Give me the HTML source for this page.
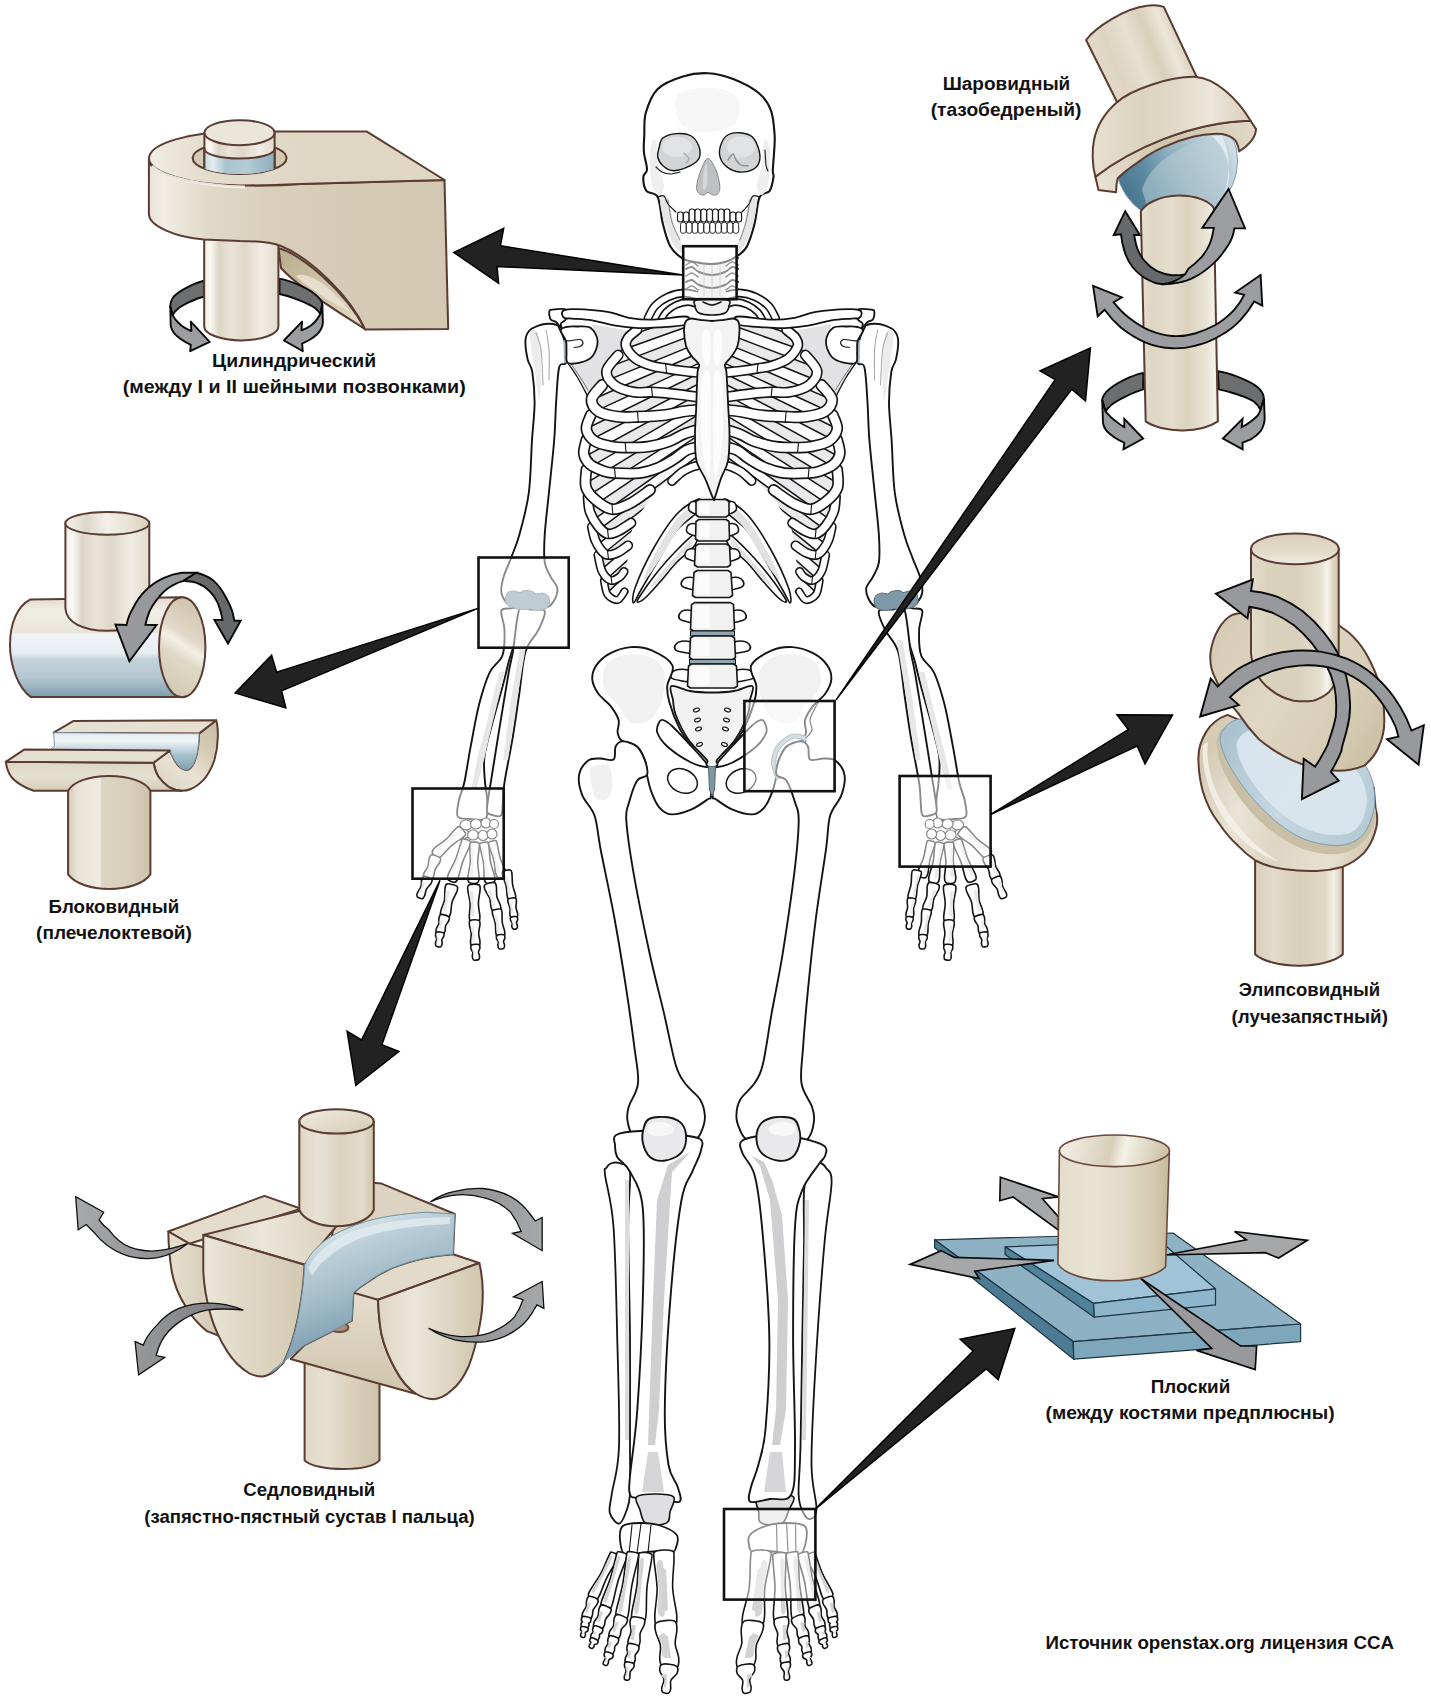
<!DOCTYPE html>
<html><head><meta charset="utf-8">
<style>
html,body{margin:0;padding:0;background:#fff;}
body{width:1431px;height:1705px;overflow:hidden;}
svg{display:block;}
text{font-family:"Liberation Sans",sans-serif;font-weight:bold;font-size:18px;fill:#111;text-anchor:middle;}
</style></head><body>
<svg width="1431" height="1705" viewBox="0 0 1431 1705">
<defs>
<!--DEFS1-->
<linearGradient id="cylA" x1="0" x2="1" y1="0" y2="0">
<stop offset="0" stop-color="#f3efe7"/><stop offset="0.08" stop-color="#fbf9f5"/><stop offset="0.2" stop-color="#ddd6c6"/><stop offset="0.36" stop-color="#e9e4d8"/><stop offset="0.55" stop-color="#dfd8c9"/><stop offset="0.78" stop-color="#f1ede5"/><stop offset="1" stop-color="#e2dbcc"/>
</linearGradient>
<linearGradient id="blueBand" x1="0" x2="1" y1="0" y2="0">
<stop offset="0" stop-color="#c7d9e0"/><stop offset="0.12" stop-color="#e3edf1"/><stop offset="0.3" stop-color="#a9c3cf"/><stop offset="0.6" stop-color="#b4ccd6"/><stop offset="0.85" stop-color="#9bb8c6"/><stop offset="1" stop-color="#8eaebd"/>
</linearGradient>
<linearGradient id="pvFront" gradientUnits="userSpaceOnUse" x1="149" x2="448" y1="0" y2="0">
<stop offset="0" stop-color="#e9e3d6"/><stop offset="0.05" stop-color="#f1ede4"/><stop offset="0.2" stop-color="#e0d9c8"/><stop offset="0.45" stop-color="#d8ceb9"/><stop offset="1" stop-color="#d3c8b1"/>
</linearGradient>
<linearGradient id="pvTop" x1="0" x2="1" y1="0" y2="0">
<stop offset="0" stop-color="#f1ede3"/><stop offset="0.3" stop-color="#e4ddcd"/><stop offset="1" stop-color="#dfd6c3"/>
</linearGradient>
<linearGradient id="pvArch" gradientUnits="userSpaceOnUse" x1="280" y1="250" x2="360" y2="325">
<stop offset="0" stop-color="#b9ab8e"/><stop offset="0.5" stop-color="#cfc4a8"/><stop offset="1" stop-color="#e2d9c2"/>
</linearGradient>
<clipPath id="pvClip"><rect x="190" y="100" width="100" height="58"/><ellipse cx="239.6" cy="158" rx="47" ry="16"/></clipPath>
<!--/DEFS1-->
<!--DEFS2-->
<linearGradient id="cylB" x1="0" x2="1" y1="0" y2="0">
<stop offset="0" stop-color="#e6dfd0"/><stop offset="0.15" stop-color="#ded6c3"/><stop offset="0.4" stop-color="#e4ddcb"/><stop offset="0.6" stop-color="#dbd2bd"/><stop offset="0.85" stop-color="#e9e3d5"/><stop offset="0.96" stop-color="#f6f3ec"/><stop offset="1" stop-color="#e2dbca"/>
</linearGradient>
<linearGradient id="ballUp" gradientUnits="userSpaceOnUse" x1="1095" y1="75" x2="1180" y2="40">
<stop offset="0" stop-color="#e4ddcc"/><stop offset="0.25" stop-color="#dcd4c0"/><stop offset="0.5" stop-color="#e6e0d0"/><stop offset="0.7" stop-color="#d9d0bb"/><stop offset="0.88" stop-color="#ebe6d9"/><stop offset="1" stop-color="#ddd5c2"/>
</linearGradient>
<linearGradient id="ballCap" gradientUnits="userSpaceOnUse" x1="1095" y1="0" x2="1250" y2="0">
<stop offset="0" stop-color="#e6dfcf"/><stop offset="0.3" stop-color="#dcd3bf"/><stop offset="0.55" stop-color="#e2dbc9"/><stop offset="0.75" stop-color="#ebe6d9"/><stop offset="1" stop-color="#d9d0bb"/>
</linearGradient>
<linearGradient id="ballRim" gradientUnits="userSpaceOnUse" x1="1100" y1="190" x2="1250" y2="125">
<stop offset="0" stop-color="#e8e2d3"/><stop offset="0.5" stop-color="#cfc5ac"/><stop offset="1" stop-color="#e0d8c5"/>
</linearGradient>
<linearGradient id="ballG" gradientUnits="userSpaceOnUse" x1="1120" y1="200" x2="1235" y2="140">
<stop offset="0" stop-color="#3f7089"/><stop offset="0.28" stop-color="#5f8ba1"/><stop offset="0.5" stop-color="#8fafbf"/><stop offset="0.75" stop-color="#b3c9d3"/><stop offset="1" stop-color="#d3e0e6"/>
</linearGradient>
<!--/DEFS2-->
<!--DEFS3-->
<linearGradient id="hgBody" gradientUnits="userSpaceOnUse" x1="0" y1="599" x2="0" y2="697">
<stop offset="0" stop-color="#e3ddcd"/><stop offset="0.12" stop-color="#f1eee6"/><stop offset="0.345" stop-color="#e9e5da"/><stop offset="0.355" stop-color="#f0f3f6"/><stop offset="0.55" stop-color="#e9eef2"/><stop offset="0.62" stop-color="#c3d2da"/><stop offset="0.8" stop-color="#b4c7d1"/><stop offset="1" stop-color="#7d9fb0"/>
</linearGradient>
<linearGradient id="hgEnd" gradientUnits="userSpaceOnUse" x1="160" y1="680" x2="205" y2="610">
<stop offset="0" stop-color="#d5cbb5"/><stop offset="0.35" stop-color="#e0d8c6"/><stop offset="0.5" stop-color="#f3efe7"/><stop offset="0.62" stop-color="#e0d8c6"/><stop offset="1" stop-color="#d0c5ae"/>
</linearGradient>
<linearGradient id="hgTopE" x1="0" x2="1" y1="0" y2="0">
<stop offset="0" stop-color="#f6f3ed"/><stop offset="0.25" stop-color="#dfd8c8"/><stop offset="0.5" stop-color="#f3f0e9"/><stop offset="0.8" stop-color="#e6e0d2"/><stop offset="1" stop-color="#d8cfbb"/>
</linearGradient>
<linearGradient id="cylC" x1="0" x2="1" y1="0" y2="0">
<stop offset="0" stop-color="#d6ccb6"/><stop offset="0.12" stop-color="#e9e4d7"/><stop offset="0.395" stop-color="#efebe1"/><stop offset="0.405" stop-color="#ddd5c2"/><stop offset="0.75" stop-color="#d9d0bb"/><stop offset="1" stop-color="#cdc2a9"/>
</linearGradient>
<linearGradient id="hgCres" gradientUnits="userSpaceOnUse" x1="160" y1="790" x2="215" y2="725">
<stop offset="0" stop-color="#ddd5c2"/><stop offset="0.4" stop-color="#e8e2d4"/><stop offset="0.7" stop-color="#d5cbb5"/><stop offset="1" stop-color="#cbbfa5"/>
</linearGradient>
<linearGradient id="hgFront" gradientUnits="userSpaceOnUse" x1="0" y1="762" x2="0" y2="791">
<stop offset="0" stop-color="#ded6c3"/><stop offset="0.5" stop-color="#e6e0d1"/><stop offset="1" stop-color="#d5cbb5"/>
</linearGradient>
<linearGradient id="hgBlue" gradientUnits="userSpaceOnUse" x1="0" y1="733" x2="0" y2="770">
<stop offset="0" stop-color="#dfe9ee"/><stop offset="0.2" stop-color="#f3f7f9"/><stop offset="0.42" stop-color="#c9d9e0"/><stop offset="0.6" stop-color="#a7c0cc"/><stop offset="1" stop-color="#7ea0b1"/>
</linearGradient>
<!--/DEFS3-->
<!--DEFS4-->
<linearGradient id="elCyl" x1="0" x2="1" y1="0" y2="0">
<stop offset="0" stop-color="#d9d0bb"/><stop offset="0.2" stop-color="#e2dbc9"/><stop offset="0.5" stop-color="#d9d0bb"/><stop offset="0.8" stop-color="#e0d8c5"/><stop offset="0.9" stop-color="#f3f0e8"/><stop offset="1" stop-color="#cfc5ac"/>
</linearGradient>
<linearGradient id="elCyl2" x1="0" x2="1" y1="0" y2="0">
<stop offset="0" stop-color="#e2dbc9"/><stop offset="0.2" stop-color="#dbd2be"/><stop offset="0.5" stop-color="#d9d0bb"/><stop offset="0.78" stop-color="#e4decd"/><stop offset="0.87" stop-color="#f7f5ee"/><stop offset="0.92" stop-color="#e2dbc9"/><stop offset="1" stop-color="#cfc5ac"/>
</linearGradient>
<linearGradient id="elTop" x1="0" x2="0" y1="0" y2="1">
<stop offset="0" stop-color="#d9d0bb"/><stop offset="0.6" stop-color="#e2dbc9"/><stop offset="1" stop-color="#f1ede4"/>
</linearGradient>
<linearGradient id="elEgg" gradientUnits="userSpaceOnUse" x1="1215" y1="640" x2="1385" y2="750">
<stop offset="0" stop-color="#d6ccb6"/><stop offset="0.4" stop-color="#dfd7c4"/><stop offset="0.7" stop-color="#d8ceb8"/><stop offset="1" stop-color="#cbbfa5"/>
</linearGradient>
<linearGradient id="elDish" gradientUnits="userSpaceOnUse" x1="1200" y1="780" x2="1375" y2="850">
<stop offset="0" stop-color="#d6ccb6"/><stop offset="0.25" stop-color="#e9e4d7"/><stop offset="0.5" stop-color="#ded6c3"/><stop offset="0.8" stop-color="#e6e0d0"/><stop offset="1" stop-color="#cfc5ac"/>
</linearGradient>
<linearGradient id="elBlue" gradientUnits="userSpaceOnUse" x1="1225" y1="730" x2="1370" y2="830">
<stop offset="0" stop-color="#a9c2ce"/><stop offset="0.5" stop-color="#c6d7e0"/><stop offset="1" stop-color="#b4cad5"/>
</linearGradient>
<!--/DEFS4-->
<!--DEFS5-->
<linearGradient id="sdCyl" x1="0" x2="1" y1="0" y2="0">
<stop offset="0" stop-color="#e0d8c6"/><stop offset="0.3" stop-color="#e6e0d0"/><stop offset="0.6" stop-color="#dbd2be"/><stop offset="1" stop-color="#cdc2a9"/>
</linearGradient>
<linearGradient id="sdCylU" x1="0" x2="1" y1="0" y2="0">
<stop offset="0" stop-color="#ded6c3"/><stop offset="0.25" stop-color="#e8e3d5"/><stop offset="0.55" stop-color="#dcd3bf"/><stop offset="0.85" stop-color="#e2dbc9"/><stop offset="1" stop-color="#cfc5ac"/>
</linearGradient>
<linearGradient id="sdTopE" x1="0" x2="1" y1="0" y2="1">
<stop offset="0" stop-color="#f0ece3"/><stop offset="0.5" stop-color="#e2dbc9"/><stop offset="1" stop-color="#d6ccb6"/>
</linearGradient>
<linearGradient id="sdLobeB" x1="0" x2="1" y1="0" y2="0">
<stop offset="0" stop-color="#e6e0d0"/><stop offset="1" stop-color="#cfc5ac"/>
</linearGradient>
<linearGradient id="sdD1" gradientUnits="userSpaceOnUse" x1="203" y1="0" x2="305" y2="0">
<stop offset="0" stop-color="#ece7db"/><stop offset="0.3" stop-color="#e2dbc9"/><stop offset="0.7" stop-color="#dad1bc"/><stop offset="1" stop-color="#d3c9b2"/>
</linearGradient>
<linearGradient id="sdD2" gradientUnits="userSpaceOnUse" x1="378" y1="0" x2="483" y2="0">
<stop offset="0" stop-color="#ded6c3"/><stop offset="0.35" stop-color="#ebe6da"/><stop offset="0.7" stop-color="#ddd5c1"/><stop offset="1" stop-color="#cfc5ac"/>
</linearGradient>
<linearGradient id="sdSide" gradientUnits="userSpaceOnUse" x1="0" y1="1295" x2="0" y2="1390">
<stop offset="0" stop-color="#e4ddcc"/><stop offset="0.5" stop-color="#dad1bc"/><stop offset="1" stop-color="#d0c6ae"/>
</linearGradient>
<linearGradient id="sdTopF" gradientUnits="userSpaceOnUse" x1="203" y1="1235" x2="320" y2="1225">
<stop offset="0" stop-color="#d9d0bb"/><stop offset="0.5" stop-color="#ebe6da"/><stop offset="1" stop-color="#ddd5c1"/>
</linearGradient>
<linearGradient id="sdBlue" gradientUnits="userSpaceOnUse" x1="330" y1="1225" x2="370" y2="1330">
<stop offset="0" stop-color="#dfe9ee"/><stop offset="0.25" stop-color="#bccfd9"/><stop offset="0.6" stop-color="#a3bcc9"/><stop offset="1" stop-color="#7e9fb0"/>
</linearGradient>
<linearGradient id="sdArr" gradientUnits="userSpaceOnUse" x1="75" y1="0" x2="545" y2="0"><stop offset="0" stop-color="#a8a9ab"/><stop offset="0.3" stop-color="#808184"/><stop offset="0.5" stop-color="#6f7073"/><stop offset="0.72" stop-color="#808184"/><stop offset="1" stop-color="#a8a9ab"/></linearGradient>
<!--/DEFS5-->
<!--DEFS6-->
<linearGradient id="plCyl" x1="0" x2="1" y1="0" y2="0">
<stop offset="0" stop-color="#e4ddcb"/><stop offset="0.3" stop-color="#e9e3d4"/><stop offset="0.6" stop-color="#e2dac6"/><stop offset="0.85" stop-color="#d5cab1"/><stop offset="1" stop-color="#c6b99c"/>
</linearGradient>
<linearGradient id="plTop" gradientUnits="userSpaceOnUse" x1="1070" y1="1140" x2="1160" y2="1162">
<stop offset="0" stop-color="#efebe0"/><stop offset="0.45" stop-color="#d8cfb9"/><stop offset="0.6" stop-color="#f4f1e9"/><stop offset="1" stop-color="#d0c5ab"/>
</linearGradient>
<!--/DEFS6-->
</defs>
<rect width="1431" height="1705" fill="#fff"/>
<!--SKELETON-->
<!--SKEL_BEGIN-->
<g id="halfA">
<path d="M592 324 L627.6 330.4 L640 340 L612 365 L596 392 L586.1 393.4 L576.9 376.5 L567.6 362.6 L592.2 356.5 L597.6 341.1 Z" fill="#e2e2e4" stroke="none" opacity="1"/>
<path d="M567.6 362.6 C569.1 364.9 573.8 371.4 576.9 376.5 C580 381.6 583.9 389.1 586.1 393.4 C588.3 397.6 589.4 400.6 590 402" fill="none" stroke="#141414" stroke-width="1.3" stroke-linecap="round"/>
<path d="M571 364 C572.5 366.2 577.2 372.7 580 377 C582.8 381.3 586.7 387.8 588 390" fill="none" stroke="#555" stroke-width="0.8" stroke-linecap="round"/>
<path d="M549.2 311.9 C549.5 310.2 549.5 310 552.3 309.6 C555.1 309.2 563.7 308 566 309.6 C568.3 311.2 566.8 316.7 566 319 C565.2 321.3 561.8 321.9 561 323.4 C560.2 324.9 562.3 328.2 561.5 328 C560.7 327.8 557.8 323.4 556 322 C554.2 320.6 551.8 321.3 550.7 319.6 C549.6 317.9 548.9 313.6 549.2 311.9 Z" fill="#fff" stroke="#141414" stroke-width="1.8" stroke-linejoin="round" />
<path d="M538.4 325.7 C541.6 324.5 544.9 323.9 548 323.8 C551.1 323.7 555 324.3 556.9 325 C558.8 325.7 557.9 325.3 559.2 328 C560.5 330.7 563.5 335.3 564.6 341.1 C565.8 346.9 567 358.2 566.1 362.6 C565.2 367 560.9 360.6 559.2 367.3 C557.5 374 556.9 390.5 556.1 402.6 C555.3 414.7 555.4 425 554.2 440 C553 455 550.5 477 548.9 492.8 C547.3 508.6 545.4 523.4 544.7 535 C544 546.6 543.7 555.5 544.7 562.5 C545.8 569.5 548.9 573.1 551 577.3 C553.1 581.5 556.6 584.4 557.3 587.9 C558 591.4 556.8 595.3 555.2 598.5 C553.6 601.7 552 605.3 547.8 606.9 C543.6 608.5 536 608.3 530 608 C524 607.7 515.9 605.9 512 605 C508.1 604.1 508.4 604.9 506.6 602.7 C504.8 600.6 501.8 596.3 501.3 592.1 C500.8 587.9 501.9 582.9 503.5 577.3 C505.1 571.7 508.3 565.3 510.9 558.3 C513.5 551.2 516.3 545.9 519.3 535 C522.3 524.1 526.7 508.6 528.8 492.8 C530.9 477 531 455 532 440 C533 425 534.6 414 534.6 402.6 C534.6 391.2 533.4 379.1 532.3 371.9 C531.1 364.7 528.9 364.7 527.7 359.6 C526.6 354.5 525.2 345.9 525.4 341.1 C525.6 336.3 526.8 333.6 529 331 C531.2 328.4 535.2 326.9 538.4 325.7 Z" fill="#fff" stroke="#141414" stroke-width="1.9" stroke-linejoin="round" />
<path d="M530 335 C530.2 328 534.3 328.3 536 330 C537.7 331.7 539.2 336.7 540 345 C540.8 353.3 541.2 370.8 541 380 C540.8 389.2 540 401.3 539 400 C538 398.7 536.5 382.8 535 372 C533.5 361.2 529.8 342 530 335 Z" fill="#ececee" stroke="none" opacity="1"/>
<path d="M536 333 C536.8 335.8 539.8 341.3 541 350 C542.2 358.7 542.7 379.2 543 385" fill="none" stroke="#777" stroke-width="0.7" stroke-linecap="round"/>
<path d="M546 330 C546.5 333.3 548.5 341.7 549 350 C549.5 358.3 549 375 549 380" fill="none" stroke="#777" stroke-width="0.7" stroke-linecap="round"/>
<path d="M563.5 340 L567 340.5 L567.5 362.6 L564 363 Z" fill="#9fb1bd" stroke="none" opacity="1"/>
<path d="M560.7 330.4 C560.7 328.1 563.3 327.6 566 327 C568.7 326.4 572.8 326.3 576.9 326.5 C581 326.7 587.2 325.6 590.7 328 C594.2 330.4 597.4 336.4 597.6 341.1 C597.9 345.9 595.2 352.9 592.2 356.5 C589.2 360.1 584 361.6 579.9 362.6 C575.8 363.6 569.8 364.4 567.6 362.6 C565.4 360.8 566.8 355.6 566.5 352 C566.2 348.4 567 344.6 566 341 C565 337.4 560.7 332.7 560.7 330.4 Z" fill="#fff" stroke="#141414" stroke-width="1.8" stroke-linejoin="round" />
<path d="M566 341 C567 340.9 569.7 340.8 572 340.5 C574.3 340.2 578.2 339.1 580 339.5 C581.8 339.9 583 341.8 583 343 C583 344.2 581.5 345.8 580 346.5 C578.5 347.2 575 347.3 574 347.5" fill="none" stroke="#141414" stroke-width="1.1" stroke-linecap="round"/>
</g>
<use href="#halfA" transform="translate(1423.6 0) scale(-1 1)"/>
<defs><clipPath id="cageClip"><path d="M700 322 L640 326 L626 343 L606 370 L591 399 L586 429 L583 454 L584.6 478.4 L588.2 504.8 L593.4 540 L600.5 571.6 L607.5 594.5 L618.1 600.7 L625.1 591 L626 572 L629 547 L633 524 L652 496 L668 480 L700 464 Z"/></clipPath></defs>
<g id="halfRibs">
<path d="M700 296 C697.3 295.5 689.3 292.8 684 293 C678.7 293.2 672.8 294.8 668 297 C663.2 299.2 658.3 302.5 655 306 C651.7 309.5 649.2 316 648 318" fill="none" stroke="#141414" stroke-width="8.8" stroke-linecap="round" stroke-linejoin="round"/>
<path d="M700 296 C697.3 295.5 689.3 292.8 684 293 C678.7 293.2 672.8 294.8 668 297 C663.2 299.2 658.3 302.5 655 306 C651.7 309.5 649.2 316 648 318" fill="none" stroke="#fff" stroke-width="5.5" stroke-linecap="round" stroke-linejoin="round"/>
<path d="M700 305 C698 304.5 692 302 688 302 C684 302 679.7 303.3 676 305 C672.3 306.7 668.5 309.5 666 312 C663.5 314.5 661.8 318.7 661 320" fill="none" stroke="#141414" stroke-width="7.8" stroke-linecap="round" stroke-linejoin="round"/>
<path d="M700 305 C698 304.5 692 302 688 302 C684 302 679.7 303.3 676 305 C672.3 306.7 668.5 309.5 666 312 C663.5 314.5 661.8 318.7 661 320" fill="none" stroke="#fff" stroke-width="4.5" stroke-linecap="round" stroke-linejoin="round"/>
<g clip-path="url(#cageClip)">
<rect x="575" y="315" width="130" height="295" fill="#e9e9eb"/>
<path d="M706 300 L538.6 351.2 L539.9 365 L706 310 Z" fill="#fcfcfc" stroke="none"/>
<path d="M706 320 L541.2 378.8 L542.5 392.5 L706 330 Z" fill="#fcfcfc" stroke="none"/>
<path d="M706 340 L544 406.2 L545.6 419.9 L706 350 Z" fill="#fcfcfc" stroke="none"/>
<path d="M706 360 L547.2 433.6 L548.9 447.2 L706 370 Z" fill="#fcfcfc" stroke="none"/>
<path d="M706 380 L550.7 460.7 L552.6 474.3 L706 390 Z" fill="#fcfcfc" stroke="none"/>
<path d="M706 400 L554.6 487.7 L556.6 501.2 L706 410 Z" fill="#fcfcfc" stroke="none"/>
<path d="M706 420 L558.8 514.6 L560.9 527.9 L706 430 Z" fill="#fcfcfc" stroke="none"/>
<path d="M706 440 L563.2 541.2 L565.6 554.4 L706 450 Z" fill="#fcfcfc" stroke="none"/>
<path d="M706 460 L568 567.6 L570.5 580.7 L706 470 Z" fill="#fcfcfc" stroke="none"/>
<path d="M706 480 L573.1 593.8 L575.7 606.8 L706 490 Z" fill="#fcfcfc" stroke="none"/>
<path d="M706 500 L578.4 619.8 L581.2 632.6 L706 510 Z" fill="#fcfcfc" stroke="none"/>
<path d="M706 520 L584 645.5 L586.9 658.2 L706 530 Z" fill="#fcfcfc" stroke="none"/>
<path d="M706 540 L589.9 670.9 L592.9 683.5 L706 550 Z" fill="#fcfcfc" stroke="none"/>
<path d="M706 560 L596 696.1 L599.1 708.5 L706 570 Z" fill="#fcfcfc" stroke="none"/>
<path d="M706 300 L538.6 351.2" stroke="#141414" stroke-width="1.5" fill="none"/>
<path d="M706 310 L539.9 365" stroke="#141414" stroke-width="1.5" fill="none"/>
<path d="M706 320 L541.2 378.8" stroke="#141414" stroke-width="1.5" fill="none"/>
<path d="M706 330 L542.5 392.5" stroke="#141414" stroke-width="1.5" fill="none"/>
<path d="M706 340 L544 406.2" stroke="#141414" stroke-width="1.5" fill="none"/>
<path d="M706 350 L545.6 419.9" stroke="#141414" stroke-width="1.5" fill="none"/>
<path d="M706 360 L547.2 433.6" stroke="#141414" stroke-width="1.5" fill="none"/>
<path d="M706 370 L548.9 447.2" stroke="#141414" stroke-width="1.5" fill="none"/>
<path d="M706 380 L550.7 460.7" stroke="#141414" stroke-width="1.5" fill="none"/>
<path d="M706 390 L552.6 474.3" stroke="#141414" stroke-width="1.5" fill="none"/>
<path d="M706 400 L554.6 487.7" stroke="#141414" stroke-width="1.5" fill="none"/>
<path d="M706 410 L556.6 501.2" stroke="#141414" stroke-width="1.5" fill="none"/>
<path d="M706 420 L558.8 514.6" stroke="#141414" stroke-width="1.5" fill="none"/>
<path d="M706 430 L560.9 527.9" stroke="#141414" stroke-width="1.5" fill="none"/>
<path d="M706 440 L563.2 541.2" stroke="#141414" stroke-width="1.5" fill="none"/>
<path d="M706 450 L565.6 554.4" stroke="#141414" stroke-width="1.5" fill="none"/>
<path d="M706 460 L568 567.6" stroke="#141414" stroke-width="1.5" fill="none"/>
<path d="M706 470 L570.5 580.7" stroke="#141414" stroke-width="1.5" fill="none"/>
<path d="M706 480 L573.1 593.8" stroke="#141414" stroke-width="1.5" fill="none"/>
<path d="M706 490 L575.7 606.8" stroke="#141414" stroke-width="1.5" fill="none"/>
<path d="M706 500 L578.4 619.8" stroke="#141414" stroke-width="1.5" fill="none"/>
<path d="M706 510 L581.2 632.6" stroke="#141414" stroke-width="1.5" fill="none"/>
<path d="M706 520 L584 645.5" stroke="#141414" stroke-width="1.5" fill="none"/>
<path d="M706 530 L586.9 658.2" stroke="#141414" stroke-width="1.5" fill="none"/>
<path d="M706 540 L589.9 670.9" stroke="#141414" stroke-width="1.5" fill="none"/>
<path d="M706 550 L592.9 683.5" stroke="#141414" stroke-width="1.5" fill="none"/>
<path d="M706 560 L596 696.1" stroke="#141414" stroke-width="1.5" fill="none"/>
<path d="M706 570 L599.1 708.5" stroke="#141414" stroke-width="1.5" fill="none"/>
</g>
<path d="M604 581 C604.6 583.2 605.2 591.3 607.5 594.5 C609.8 597.7 614.7 600.5 617.5 600 C620.3 599.5 623.3 592.9 624.5 591.5" fill="none" stroke="#141414" stroke-width="8.2" stroke-linecap="round" stroke-linejoin="round"/>
<path d="M604 581 C604.6 583.2 605.2 591.3 607.5 594.5 C609.8 597.7 614.7 600.5 617.5 600 C620.3 599.5 623.3 592.9 624.5 591.5" fill="none" stroke="#fff" stroke-width="5" stroke-linecap="round" stroke-linejoin="round"/>
<path d="M598 555 C598.7 557.8 600 567.4 602.2 571.6 C604.4 575.8 608.1 579.5 611 580.4 C613.9 581.3 617.6 578.4 619.8 576.9 C622 575.4 623.3 572.5 624 571.6" fill="none" stroke="#141414" stroke-width="9.2" stroke-linecap="round" stroke-linejoin="round"/>
<path d="M598 555 C598.7 557.8 600 567.4 602.2 571.6 C604.4 575.8 608.1 579.5 611 580.4 C613.9 581.3 617.6 578.4 619.8 576.9 C622 575.4 623.3 572.5 624 571.6" fill="none" stroke="#fff" stroke-width="6" stroke-linecap="round" stroke-linejoin="round"/>
<path d="M592 527 C592.5 529.2 593.7 536.2 595.2 540 C596.7 543.8 599 547.5 601 550 C603 552.5 604.6 554.5 607.5 554.9 C610.4 555.3 614.7 553.9 618.1 552.3 C621.5 550.7 626.4 546.6 628 545.5" fill="none" stroke="#141414" stroke-width="10.2" stroke-linecap="round" stroke-linejoin="round"/>
<path d="M592 527 C592.5 529.2 593.7 536.2 595.2 540 C596.7 543.8 599 547.5 601 550 C603 552.5 604.6 554.5 607.5 554.9 C610.4 555.3 614.7 553.9 618.1 552.3 C621.5 550.7 626.4 546.6 628 545.5" fill="none" stroke="#fff" stroke-width="7" stroke-linecap="round" stroke-linejoin="round"/>
<path d="M588 497 C588.3 499.5 588.3 507.2 590 512 C591.7 516.8 595.1 522.4 598 526 C600.9 529.6 604.1 532.9 607.5 533.8 C610.9 534.7 614.2 533 618.1 531.2 C622 529.4 628.9 524.4 631 523" fill="none" stroke="#141414" stroke-width="10.8" stroke-linecap="round" stroke-linejoin="round"/>
<path d="M588 497 C588.3 499.5 588.3 507.2 590 512 C591.7 516.8 595.1 522.4 598 526 C600.9 529.6 604.1 532.9 607.5 533.8 C610.9 534.7 614.2 533 618.1 531.2 C622 529.4 628.9 524.4 631 523" fill="none" stroke="#fff" stroke-width="7.5" stroke-linecap="round" stroke-linejoin="round"/>
<path d="M586.4 469.6 C586.3 472.5 584.5 482.2 586 487.2 C587.5 492.2 590.9 495.8 595.2 499.5 C599.5 503.2 606.1 508.5 611.9 509.2 C617.7 509.9 623.6 506.7 630 503.5 C636.4 500.3 646.7 492.2 650 490" fill="none" stroke="#141414" stroke-width="11.8" stroke-linecap="round" stroke-linejoin="round"/>
<path d="M586.4 469.6 C586.3 472.5 584.5 482.2 586 487.2 C587.5 492.2 590.9 495.8 595.2 499.5 C599.5 503.2 606.1 508.5 611.9 509.2 C617.7 509.9 623.6 506.7 630 503.5 C636.4 500.3 646.7 492.2 650 490" fill="none" stroke="#fff" stroke-width="8.5" stroke-linecap="round" stroke-linejoin="round"/>
<path d="M672 481 C673.7 479.5 678.7 474.3 682 472 C685.3 469.7 689 468.2 692 467 C695 465.8 698.7 465.3 700 465" fill="none" stroke="#141414" stroke-width="9.8" stroke-linecap="round" stroke-linejoin="round"/>
<path d="M672 481 C673.7 479.5 678.7 474.3 682 472 C685.3 469.7 689 468.2 692 467 C695 465.8 698.7 465.3 700 465" fill="none" stroke="#fff" stroke-width="6.5" stroke-linecap="round" stroke-linejoin="round"/>
<path d="M586.4 439.7 C586 442 583.2 449.6 583.8 453.7 C584.4 457.8 586.5 461.4 589.9 464.3 C593.3 467.2 599.9 469.8 604 471.3 C608.1 472.8 608.6 472.8 614.5 473.1 C620.4 473.4 631.9 474 639.2 473.1 C646.5 472.2 652.6 470.2 658.5 467.8 C664.4 465.4 669.7 461.9 674.4 459 C679.1 456.1 682.4 452.2 686.7 450.2 C691 448.1 697.8 447.3 700 446.7" fill="none" stroke="#141414" stroke-width="11.8" stroke-linecap="round" stroke-linejoin="round"/>
<path d="M586.4 439.7 C586 442 583.2 449.6 583.8 453.7 C584.4 457.8 586.5 461.4 589.9 464.3 C593.3 467.2 599.9 469.8 604 471.3 C608.1 472.8 608.6 472.8 614.5 473.1 C620.4 473.4 631.9 474 639.2 473.1 C646.5 472.2 652.6 470.2 658.5 467.8 C664.4 465.4 669.7 461.9 674.4 459 C679.1 456.1 682.4 452.2 686.7 450.2 C691 448.1 697.8 447.3 700 446.7" fill="none" stroke="#fff" stroke-width="8.5" stroke-linecap="round" stroke-linejoin="round"/>
<path d="M590.8 415 C590.1 417.4 585.7 424.7 586.4 429.1 C587.1 433.5 590.8 438.5 595.2 441.4 C599.6 444.3 607.8 445.7 612.8 446.7 C617.8 447.7 619.2 447.6 625.1 447.6 C631 447.6 640.7 447.7 648 446.7 C655.3 445.7 663.2 443.4 669.1 441.4 C675 439.3 678.1 436.4 683.2 434.4 C688.4 432.3 697.2 430 700 429.1" fill="none" stroke="#141414" stroke-width="11.8" stroke-linecap="round" stroke-linejoin="round"/>
<path d="M590.8 415 C590.1 417.4 585.7 424.7 586.4 429.1 C587.1 433.5 590.8 438.5 595.2 441.4 C599.6 444.3 607.8 445.7 612.8 446.7 C617.8 447.7 619.2 447.6 625.1 447.6 C631 447.6 640.7 447.7 648 446.7 C655.3 445.7 663.2 443.4 669.1 441.4 C675 439.3 678.1 436.4 683.2 434.4 C688.4 432.3 697.2 430 700 429.1" fill="none" stroke="#fff" stroke-width="8.5" stroke-linecap="round" stroke-linejoin="round"/>
<path d="M602.2 385.1 C600.5 387.5 592.3 394.8 591.7 399.2 C591.1 403.6 594.3 408.6 598.7 411.5 C603.1 414.4 611.7 415.9 618.1 416.8 C624.5 417.7 629.5 417.1 637.4 416.8 C645.3 416.5 658 415.9 665.6 415 C673.2 414.1 677.5 412.4 683.2 411.5 C688.9 410.6 697.2 410 700 409.7" fill="none" stroke="#141414" stroke-width="12.2" stroke-linecap="round" stroke-linejoin="round"/>
<path d="M602.2 385.1 C600.5 387.5 592.3 394.8 591.7 399.2 C591.1 403.6 594.3 408.6 598.7 411.5 C603.1 414.4 611.7 415.9 618.1 416.8 C624.5 417.7 629.5 417.1 637.4 416.8 C645.3 416.5 658 415.9 665.6 415 C673.2 414.1 677.5 412.4 683.2 411.5 C688.9 410.6 697.2 410 700 409.7" fill="none" stroke="#fff" stroke-width="9" stroke-linecap="round" stroke-linejoin="round"/>
<path d="M618.1 355.2 C616.2 357.8 607.2 366 606.6 371 C606 376 610 381.6 614.5 385.1 C619 388.6 627.7 390.9 633.9 392.1 C640.1 393.3 644.8 391.8 651.5 392.1 C658.2 392.4 666.3 393 674.4 393.9 C682.5 394.8 695.7 396.8 700 397.4" fill="none" stroke="#141414" stroke-width="11.2" stroke-linecap="round" stroke-linejoin="round"/>
<path d="M618.1 355.2 C616.2 357.8 607.2 366 606.6 371 C606 376 610 381.6 614.5 385.1 C619 388.6 627.7 390.9 633.9 392.1 C640.1 393.3 644.8 391.8 651.5 392.1 C658.2 392.4 666.3 393 674.4 393.9 C682.5 394.8 695.7 396.8 700 397.4" fill="none" stroke="#fff" stroke-width="8" stroke-linecap="round" stroke-linejoin="round"/>
<path d="M637 330 C635.5 331.3 629.8 335.3 628 338 C626.2 340.7 624.7 342.9 626 346.4 C627.3 349.8 631.5 355.5 635.7 358.7 C640 361.9 646.5 364.1 651.5 365.7 C656.5 367.3 660.3 367.5 665.6 368.4 C670.9 369.3 677.5 370.3 683.2 371 C688.9 371.7 697.2 372.5 700 372.8" fill="none" stroke="#141414" stroke-width="10.8" stroke-linecap="round" stroke-linejoin="round"/>
<path d="M637 330 C635.5 331.3 629.8 335.3 628 338 C626.2 340.7 624.7 342.9 626 346.4 C627.3 349.8 631.5 355.5 635.7 358.7 C640 361.9 646.5 364.1 651.5 365.7 C656.5 367.3 660.3 367.5 665.6 368.4 C670.9 369.3 677.5 370.3 683.2 371 C688.9 371.7 697.2 372.5 700 372.8" fill="none" stroke="#fff" stroke-width="7.5" stroke-linecap="round" stroke-linejoin="round"/>
<path d="M665.6 363.4 L666.6 373.4" stroke="#141414" stroke-width="1.1"/>
<path d="M651.5 386.6 L652.5 397.6" stroke="#141414" stroke-width="1.1"/>
<path d="M637.4 410.8 L638.4 422.8" stroke="#141414" stroke-width="1.1"/>
<path d="M625.1 442.1 L626.1 453.1" stroke="#141414" stroke-width="1.1"/>
<path d="M614.5 467.6 L615.5 478.6" stroke="#141414" stroke-width="1.1"/>
<path d="M611.9 503.9 L612.9 514.5" stroke="#141414" stroke-width="1.1"/>
<path d="M607.5 529.1 L608.5 538.5" stroke="#141414" stroke-width="1.1"/>
<path d="M607.5 550.5 L608.5 559.3" stroke="#141414" stroke-width="1.1"/>
<path d="M611 576.6 L612 584.2" stroke="#141414" stroke-width="1.1"/>
<path d="M699 499 C695.5 499.5 683.7 506.5 676 515 C668.3 523.5 659.4 537.8 652.6 550 C645.8 562.2 638.2 579.2 635 588 C631.8 596.8 632.5 602.7 633.5 603 C634.5 603.3 636.7 597.2 640.9 590 C645.1 582.8 652.6 569.8 658.5 560 C664.4 550.2 669.7 539 676.1 531 C682.5 523 693.2 517.3 697 512 C700.8 506.7 702.5 498.5 699 499 Z" fill="#fff" stroke="#141414" stroke-width="1.6" stroke-linejoin="round" />
<path d="M690 508 C687.3 509 681.7 512.7 676 520 C670.3 527.3 661.3 542.3 656 552 C650.7 561.7 645 574.3 644 578 C643 581.7 647 577.7 650 574 C653 570.3 657.3 563.3 662 556 C666.7 548.7 673 537 678 530 C683 523 690 517.7 692 514 C694 510.3 692.7 507 690 508 Z" fill="#e2e2e4" stroke="none" opacity="1"/>
<path d="M696 533 C692.7 534.2 681.8 545 675 552 C668.2 559 660.8 567.7 655 575 C649.2 582.3 642.9 591.5 640 596 C637.1 600.5 636.7 601.7 637.5 602 C638.3 602.3 641.2 601.3 645 598 C648.8 594.7 654.8 587.8 660 582 C665.2 576.2 670.2 569.2 676 563 C681.8 556.8 691.7 550 695 545 C698.3 540 699.3 531.8 696 533 Z" fill="#fff" stroke="#141414" stroke-width="1.6" stroke-linejoin="round" />
<path d="M690 540 C687.3 541.8 681 550.3 676 556 C671 561.7 664.3 568.7 660 574 C655.7 579.3 650.7 586.3 650 588 C649.3 589.7 653.3 586.5 656 584 C658.7 581.5 662 577.5 666 573 C670 568.5 675.7 561.7 680 557 C684.3 552.3 690.3 547.8 692 545 C693.7 542.2 692.7 538.2 690 540 Z" fill="#e2e2e4" stroke="none" opacity="1"/>
</g>
<use href="#halfRibs" transform="translate(1423.6 0) scale(-1 1)"/>
<g id="halfC">
<path d="M563.8 310.4 C566 309.6 567.7 308.9 575 309.2 C582.3 309.4 598.3 310.4 607.6 311.9 C616.9 313.4 623 316.8 630.7 318.1 C638.4 319.4 644.7 319.9 653.7 319.6 C662.7 319.3 678.6 316.4 684.5 316.5 C690.4 316.6 689 318.6 689 320 C689 321.4 689.1 323.8 684.5 325 C679.9 326.2 669.1 326.8 661.4 327.3 C653.7 327.8 646.1 328.4 638.4 328.1 C630.7 327.8 623 327 615.3 325.7 C607.6 324.4 599.4 321.6 592.2 320.4 C585 319.2 576.6 319 572 318.6 C567.4 318.2 566.3 318.9 564.6 318.1 C562.9 317.3 562.1 315.3 562 314 C561.9 312.7 561.6 311.2 563.8 310.4 Z" fill="#fff" stroke="#141414" stroke-width="1.8" stroke-linejoin="round" />
</g>
<use href="#halfC" transform="translate(1423.6 0) scale(-1 1)"/>
<path d="M697 503.2 C696.1 501.3 693.1 501.4 691.8 501.8 C690.5 502.1 689.5 503.8 689 505.2 C688.5 506.7 688.4 509 689 510.2 C689.6 511.5 691.2 512.2 692.5 512.8 C693.8 513.2 696.2 514.8 697 513.2 C697.8 511.7 697.9 505.2 697 503.2 Z" fill="#fff" stroke="#141414" stroke-width="1.6" stroke-linejoin="round" />
<path d="M728 503.2 C728.9 501.3 731.9 501.4 733.2 501.8 C734.5 502.1 735.5 503.8 736 505.2 C736.5 506.7 736.6 509 736 510.2 C735.4 511.5 733.8 512.2 732.5 512.8 C731.2 513.2 728.8 514.8 728 513.2 C727.2 511.7 727.1 505.2 728 503.2 Z" fill="#fff" stroke="#141414" stroke-width="1.6" stroke-linejoin="round" />
<path d="M696 501.5 L699 499.5 L726 499.5 L729 501.5 L729 515 L726 517 L699 517 L696 515 Z" fill="#f1f1f2" stroke="#141414" stroke-width="1.6" stroke-linejoin="round" />
<path d="M699 502.5 L709.5 502.5 L709.5 514 L699 514 Z" fill="#fbfbfb" stroke="none" opacity="1"/>
<path d="M697 525.2 C695.9 523.3 692.3 523.4 690.6 523.8 C688.9 524.1 687.6 525.8 687 527.2 C686.4 528.7 686.2 531 687 532.2 C687.8 533.5 689.8 534.2 691.5 534.8 C693.2 535.2 696.1 536.8 697 535.2 C697.9 533.7 698.1 527.2 697 525.2 Z" fill="#fff" stroke="#141414" stroke-width="1.6" stroke-linejoin="round" />
<path d="M728 525.2 C729.1 523.3 732.7 523.4 734.4 523.8 C736.1 524.1 737.4 525.8 738 527.2 C738.6 528.7 738.8 531 738 532.2 C737.2 533.5 735.2 534.2 733.5 534.8 C731.8 535.2 728.9 536.8 728 535.2 C727.1 533.7 726.9 527.2 728 525.2 Z" fill="#fff" stroke="#141414" stroke-width="1.6" stroke-linejoin="round" />
<path d="M696 521.5 L699 519.5 L726 519.5 L729 521.5 L729.5 539 L726.5 541 L698.5 541 L695.5 539 Z" fill="#f1f1f2" stroke="#141414" stroke-width="1.6" stroke-linejoin="round" />
<path d="M699 522.5 L709.5 522.5 L709.5 538 L698.5 538 Z" fill="#fbfbfb" stroke="none" opacity="1"/>
<path d="M696.5 550.5 C695.3 548.6 691.3 548.7 689.5 549 C687.7 549.3 686.2 551.1 685.5 552.5 C684.8 553.9 684.7 556.2 685.5 557.5 C686.3 558.8 688.7 559.5 690.5 560 C692.3 560.5 695.5 562.1 696.5 560.5 C697.5 558.9 697.7 552.4 696.5 550.5 Z" fill="#fff" stroke="#141414" stroke-width="1.6" stroke-linejoin="round" />
<path d="M728.5 550.5 C729.7 548.6 733.7 548.7 735.5 549 C737.3 549.3 738.8 551.1 739.5 552.5 C740.2 553.9 740.3 556.2 739.5 557.5 C738.7 558.8 736.3 559.5 734.5 560 C732.7 560.5 729.5 562.1 728.5 560.5 C727.5 558.9 727.3 552.4 728.5 550.5 Z" fill="#fff" stroke="#141414" stroke-width="1.6" stroke-linejoin="round" />
<path d="M695.5 546 L698.5 544 L726.5 544 L729.5 546 L730.5 565 L727.5 567 L697.5 567 L694.5 565 Z" fill="#f1f1f2" stroke="#141414" stroke-width="1.6" stroke-linejoin="round" />
<path d="M698.5 547 L709.5 547 L709.5 564 L697.5 564 Z" fill="#fbfbfb" stroke="none" opacity="1"/>
<path d="M695 579 C693.6 577.1 689 577.2 686.8 577.5 C684.6 577.8 682.8 579.6 682 581 C681.2 582.4 681 584.8 682 586 C683 587.2 685.8 588 688 588.5 C690.2 589 693.8 590.6 695 589 C696.2 587.4 696.4 580.9 695 579 Z" fill="#fff" stroke="#141414" stroke-width="1.6" stroke-linejoin="round" />
<path d="M730 579 C731.4 577.1 736 577.2 738.2 577.5 C740.4 577.8 742.2 579.6 743 581 C743.8 582.4 744 584.8 743 586 C742 587.2 739.2 588 737 588.5 C734.8 589 731.2 590.6 730 589 C728.8 587.4 728.6 580.9 730 579 Z" fill="#fff" stroke="#141414" stroke-width="1.6" stroke-linejoin="round" />
<path d="M694 572.5 L697 570.5 L728 570.5 L731 572.5 L732.5 595.5 L729.5 597.5 L695.5 597.5 L692.5 595.5 Z" fill="#f1f1f2" stroke="#141414" stroke-width="1.6" stroke-linejoin="round" />
<path d="M697 573.5 L709.5 573.5 L709.5 594.5 L695.5 594.5 Z" fill="#fbfbfb" stroke="none" opacity="1"/>
<path d="M692.5 611.8 C691.1 609.9 686.5 610 684.3 610.3 C682.1 610.6 680.3 612.4 679.5 613.8 C678.7 615.2 678.5 617.5 679.5 618.8 C680.5 620 683.3 620.8 685.5 621.3 C687.7 621.8 691.3 623.4 692.5 621.8 C693.7 620.2 693.9 613.7 692.5 611.8 Z" fill="#fff" stroke="#141414" stroke-width="1.6" stroke-linejoin="round" />
<path d="M732.5 611.8 C733.9 609.9 738.5 610 740.7 610.3 C742.9 610.6 744.7 612.4 745.5 613.8 C746.3 615.2 746.5 617.5 745.5 618.8 C744.5 620 741.7 620.8 739.5 621.3 C737.3 621.8 733.7 623.4 732.5 621.8 C731.3 620.2 731.1 613.7 732.5 611.8 Z" fill="#fff" stroke="#141414" stroke-width="1.6" stroke-linejoin="round" />
<path d="M691.5 604.6 L694.5 602.6 L730.5 602.6 L733.5 604.6 L734.5 629 L731.5 631 L693.5 631 L690.5 629 Z" fill="#f1f1f2" stroke="#141414" stroke-width="1.6" stroke-linejoin="round" />
<path d="M694.5 605.6 L709.5 605.6 L709.5 628 L693.5 628 Z" fill="#fbfbfb" stroke="none" opacity="1"/>
<rect x="690.5" y="631" width="44" height="5" fill="#8fa5b3" stroke="#141414" stroke-width="1"/>
<path d="M691.5 642.8 C689.8 640.8 684.2 640.9 681.5 641.2 C678.8 641.6 676.5 643.3 675.5 644.8 C674.5 646.2 674.2 648.5 675.5 649.8 C676.8 651 680.3 651.8 683 652.2 C685.7 652.8 690.1 654.3 691.5 652.8 C692.9 651.2 693.2 644.7 691.5 642.8 Z" fill="#fff" stroke="#141414" stroke-width="1.6" stroke-linejoin="round" />
<path d="M733.5 642.8 C735.2 640.8 740.8 640.9 743.5 641.2 C746.2 641.6 748.5 643.3 749.5 644.8 C750.5 646.2 750.8 648.5 749.5 649.8 C748.2 651 744.7 651.8 742 652.2 C739.3 652.8 734.9 654.3 733.5 652.8 C732.1 651.2 731.8 644.7 733.5 642.8 Z" fill="#fff" stroke="#141414" stroke-width="1.6" stroke-linejoin="round" />
<path d="M690.5 638 L693.5 636 L731.5 636 L734.5 638 L735.5 657.5 L732.5 659.5 L692.5 659.5 L689.5 657.5 Z" fill="#f1f1f2" stroke="#141414" stroke-width="1.6" stroke-linejoin="round" />
<path d="M693.5 639 L709.5 639 L709.5 656.5 L692.5 656.5 Z" fill="#fbfbfb" stroke="none" opacity="1"/>
<rect x="689.5" y="659.5" width="46" height="4.5" fill="#8fa5b3" stroke="#141414" stroke-width="1"/>
<path d="M689.5 671 C687.6 669.1 681.3 669.2 678.3 669.5 C675.3 669.8 672.6 671.6 671.5 673 C670.4 674.4 670.1 676.8 671.5 678 C672.9 679.2 677 680 680 680.5 C683 681 687.9 682.6 689.5 681 C691.1 679.4 691.4 672.9 689.5 671 Z" fill="#fff" stroke="#141414" stroke-width="1.6" stroke-linejoin="round" />
<path d="M735.5 671 C737.4 669.1 743.7 669.2 746.7 669.5 C749.7 669.8 752.4 671.6 753.5 673 C754.6 674.4 754.9 676.8 753.5 678 C752.1 679.2 748 680 745 680.5 C742 681 737.1 682.6 735.5 681 C733.9 679.4 733.6 672.9 735.5 671 Z" fill="#fff" stroke="#141414" stroke-width="1.6" stroke-linejoin="round" />
<path d="M688.5 666 L691.5 664 L733.5 664 L736.5 666 L737.5 686 L734.5 688 L690.5 688 L687.5 686 Z" fill="#f1f1f2" stroke="#141414" stroke-width="1.6" stroke-linejoin="round" />
<path d="M691.5 667 L709.5 667 L709.5 685 L690.5 685 Z" fill="#fbfbfb" stroke="none" opacity="1"/>
<path d="M686 321 C687.2 319.1 688.7 318.7 691 318.5 C693.3 318.3 696.5 319.4 700 319.8 C703.5 320.2 708 321 712 321 C716 321 720.5 320.2 724 319.8 C727.5 319.4 730.7 318.3 733 318.5 C735.3 318.7 736.9 319.1 738 321 C739.1 322.9 739.6 325.9 739.5 330 C739.4 334.1 738.8 341.5 737.5 345.9 C736.2 350.3 733.6 353.4 731.5 356.5 C729.4 359.6 725.8 361.8 725 364.5 C724.2 367.2 726 365.6 726.5 372.8 C727 380.1 727.8 397.7 728.3 408 C728.8 418.3 729.5 425.6 729.5 434.4 C729.5 443.2 729.4 453.5 728 460.8 C726.6 468.1 723.2 472.2 721 478.4 C718.8 484.5 716.1 494.4 714.8 497.7 C713.5 501 714.6 501.2 713 498 C711.4 494.8 707.8 484.6 705 478.4 C702.2 472.2 698.2 468.1 696.5 460.8 C694.8 453.5 695 443.2 695 434.4 C695 425.6 695.8 418.3 696.2 408 C696.6 397.7 697 380.1 697.5 372.8 C698 365.6 699.9 367.2 699 364.5 C698.1 361.8 694.2 359.6 692 356.5 C689.8 353.4 687.3 350.3 686 345.9 C684.7 341.5 684 334.1 684 330 C684 325.9 684.8 322.9 686 321 Z" fill="#f3f3f4" stroke="#141414" stroke-width="1.8" stroke-linejoin="round" />
<path d="M704 330 C705.3 327.5 709 330 710 335 C711 340 710.7 354.8 710 360 C709.3 365.2 707.3 367.7 706 366 C704.7 364.3 702.3 356 702 350 C701.7 344 702.7 332.5 704 330 Z" fill="#fdfdfd" stroke="none" opacity="1"/>
<path d="M720 330 C718.7 327.5 715 330 714 335 C713 340 713.3 354.8 714 360 C714.7 365.2 716.7 367.7 718 366 C719.3 364.3 721.7 356 722 350 C722.3 344 721.3 332.5 720 330 Z" fill="#fdfdfd" stroke="none" opacity="1"/>
<path d="M702 380 C703.5 371.3 708.7 363 710 378 C711.3 393 710.7 454.7 710 470 C709.3 485.3 707.5 476.7 706 470 C704.5 463.3 701.7 445 701 430 C700.3 415 700.5 388.7 702 380 Z" fill="#fdfdfd" stroke="none" opacity="1"/>
<path d="M722 380 C720.5 371.3 715.3 363 714 378 C712.7 393 713.3 454.7 714 470 C714.7 485.3 716.5 476.7 718 470 C719.5 463.3 722.3 445 723 430 C723.7 415 723.5 388.7 722 380 Z" fill="#fdfdfd" stroke="none" opacity="1"/>
<path d="M697 300 C702.3 299 721.7 299 727 300 C732.3 301 729.3 303.8 729 306 C728.7 308.2 727.8 311.5 725 313 C722.2 314.5 716.3 315 712 315 C707.7 315 701.8 314.5 699 313 C696.2 311.5 695.3 308.2 695 306 C694.7 303.8 691.7 301 697 300 Z" fill="#efeff0" stroke="#141414" stroke-width="1.6" stroke-linejoin="round" />
<path d="M703 302 C704.5 302.5 709 305 712 305 C715 305 719.5 302.5 721 302" fill="none" stroke="#141414" stroke-width="1.6" stroke-linecap="round"/>
<path d="M698 250 L726 250 L726 298 L698 298 Z" fill="#e6e6e8" stroke="none" opacity="1"/>
<path d="M686 258 C687 257.7 689.8 255.5 692 256 C694.2 256.5 695.7 259.7 699 261 C702.3 262.3 707.7 264 712 264 C716.3 264 721.7 262.3 725 261 C728.3 259.7 729.8 256.5 732 256 C734.2 255.5 737 257.7 738 258" fill="none" stroke="#1a1a1a" stroke-width="1.9" stroke-linecap="round"/>
<path d="M686 265 C687 264.5 690 261.8 692 262 C694 262.2 697 265.3 698 266" fill="none" stroke="#333" stroke-width="1.5" stroke-linecap="round"/>
<path d="M738 265 C737 264.5 734 261.8 732 262 C730 262.2 727 265.3 726 266" fill="none" stroke="#333" stroke-width="1.5" stroke-linecap="round"/>
<path d="M686 269 C687 268.7 689.8 266.5 692 267 C694.2 267.5 695.7 270.7 699 272 C702.3 273.3 707.7 275 712 275 C716.3 275 721.7 273.3 725 272 C728.3 270.7 729.8 267.5 732 267 C734.2 266.5 737 268.7 738 269" fill="none" stroke="#1a1a1a" stroke-width="1.9" stroke-linecap="round"/>
<path d="M686 276 C687 275.5 690 272.8 692 273 C694 273.2 697 276.3 698 277" fill="none" stroke="#333" stroke-width="1.5" stroke-linecap="round"/>
<path d="M738 276 C737 275.5 734 272.8 732 273 C730 273.2 727 276.3 726 277" fill="none" stroke="#333" stroke-width="1.5" stroke-linecap="round"/>
<path d="M686 282 C687 281.7 689.8 279.5 692 280 C694.2 280.5 695.7 283.7 699 285 C702.3 286.3 707.7 288 712 288 C716.3 288 721.7 286.3 725 285 C728.3 283.7 729.8 280.5 732 280 C734.2 279.5 737 281.7 738 282" fill="none" stroke="#1a1a1a" stroke-width="1.9" stroke-linecap="round"/>
<path d="M686 289 C687 288.5 690 285.8 692 286 C694 286.2 697 289.3 698 290" fill="none" stroke="#333" stroke-width="1.5" stroke-linecap="round"/>
<path d="M738 289 C737 288.5 734 285.8 732 286 C730 286.2 727 289.3 726 290" fill="none" stroke="#333" stroke-width="1.5" stroke-linecap="round"/>
<path d="M704 262 C704 267.7 704 290.3 704 296" fill="none" stroke="#999" stroke-width="0.8" stroke-linecap="round"/>
<path d="M712 262 C712 267.7 712 290.3 712 296" fill="none" stroke="#999" stroke-width="0.8" stroke-linecap="round"/>
<path d="M720 262 C720 267.7 720 290.3 720 296" fill="none" stroke="#999" stroke-width="0.8" stroke-linecap="round"/>
<path d="M708 73.2 C716.4 73.6 724.8 75.7 733.2 78.9 C741.6 82.2 752.1 87.5 758.4 92.7 C764.7 97.9 768.2 103.2 770.9 110.3 C773.6 117.3 774.1 128.1 774.6 135 C775.1 141.9 774.4 146.1 774.1 152 C773.8 157.9 772.9 166.5 772.8 170.7 C772.7 174.9 774 173.7 773.5 177 C773 180.3 772 187.5 769.7 190.8 C767.4 194.2 762.1 191.7 759.6 197.1 C757.1 202.5 756.7 215.3 754.6 223.5 C752.5 231.7 749.9 240.8 747 246.2 C744.1 251.6 740.7 253.6 737 256.2 C733.3 258.8 729.5 260.7 725 262 C720.5 263.3 715 264 710 264 C705 264 699.5 262.9 695 262 C690.5 261.1 687 261.3 682.9 258.7 C678.8 256.1 673.6 252.1 670.3 246.2 C666.9 240.3 664.9 231.7 662.8 223.5 C660.7 215.3 660.4 202.5 657.7 197.1 C655 191.7 648.8 194.2 646.4 190.8 C644 187.5 643.2 180.6 643.3 177 C643.4 173.4 646.9 173.6 647 169.4 C647.1 165.2 644.4 157.7 643.9 152 C643.4 146.3 644 141.5 644.3 135 C644.6 128.5 643.6 120.5 645.8 112.8 C648 105.1 651.5 95 657.7 88.9 C663.9 82.8 674.5 79 682.9 76.4 C691.3 73.8 699.6 72.8 708 73.2 Z" fill="#fff" stroke="#141414" stroke-width="2.1" stroke-linejoin="round" />
<path d="M678 95 C682 91.3 692.2 88.8 700 88 C707.8 87.2 718.7 88 725 90 C731.3 92 736 95 738 100 C740 105 739.7 115 737 120 C734.3 125 728.2 128 722 130 C715.8 132 706.7 132.8 700 132 C693.3 131.2 686 128.7 682 125 C678 121.3 676.7 115 676 110 C675.3 105 674 98.7 678 95 Z" fill="#f6f6f7" stroke="none" opacity="1"/>
<path d="M650 150 C650.7 142.5 654.7 137.5 656 140 C657.3 142.5 656.7 157.5 658 165 C659.3 172.5 663.7 180 664 185 C664.3 190 662 195 660 195 C658 195 653.7 192.5 652 185 C650.3 177.5 649.3 157.5 650 150 Z" fill="#eeeeef" stroke="none" opacity="1"/>
<path d="M770 150 C769.3 142.5 765.3 137.5 764 140 C762.7 142.5 763.2 157.5 762 165 C760.8 172.5 757.2 180 757 185 C756.8 190 759.2 195 761 195 C762.8 195 766.5 192.5 768 185 C769.5 177.5 770.7 157.5 770 150 Z" fill="#eeeeef" stroke="none" opacity="1"/>
<path d="M660 200 C660.3 195 665.7 193.8 668 198 C670.3 202.2 671.5 216.3 674 225 C676.5 233.7 682.7 246.2 683 250 C683.3 253.8 678.8 251.7 676 248 C673.2 244.3 668.7 236 666 228 C663.3 220 659.7 205 660 200 Z" fill="#e6e6e8" stroke="none" opacity="1"/>
<path d="M757 200 C756.5 195 751.2 193.8 749 198 C746.8 202.2 746.2 216.3 744 225 C741.8 233.7 736.2 246.2 736 250 C735.8 253.8 740.3 251.7 743 248 C745.7 244.3 749.7 236 752 228 C754.3 220 757.5 205 757 200 Z" fill="#e6e6e8" stroke="none" opacity="1"/>
<path d="M659 148 C659.9 144.8 659.9 140.4 662.8 138 C665.7 135.6 672 134 676.6 133.6 C681.2 133.2 686.7 133.5 690.4 135.5 C694.1 137.5 697.1 141.7 698.6 145.5 C700.1 149.3 700.6 154.7 699.2 158.1 C697.8 161.5 694.6 163.6 690.4 165.7 C686.2 167.8 678.7 170.7 674.1 170.7 C669.5 170.7 665.5 168 662.8 165.7 C660.1 163.4 658.3 159.8 657.7 156.9 C657.1 154 658.1 151.2 659 148 Z" fill="#d3d4d6" stroke="#141414" stroke-width="1.4" stroke-linejoin="round" />
<path d="M720.6 145.5 C721.8 141.9 723.8 137.6 726.9 135.5 C730 133.4 735.3 132.5 739.5 132.7 C743.7 132.9 749 134.1 752.1 136.7 C755.2 139.2 757.1 144 758.4 148 C759.6 152 760.5 157 759.6 160.6 C758.8 164.2 756.6 167.5 753.3 169.4 C749.9 171.3 743.9 172.4 739.5 172 C735.1 171.6 730.1 169.4 726.9 166.9 C723.6 164.4 721 160.5 720 156.9 C719 153.3 719.5 149.1 720.6 145.5 Z" fill="#d3d4d6" stroke="#141414" stroke-width="1.4" stroke-linejoin="round" />
<ellipse cx="677" cy="147" rx="15" ry="10" fill="#e2e3e5" stroke="none"/>
<ellipse cx="741" cy="147" rx="14" ry="10.5" fill="#e2e3e5" stroke="none"/>
<path d="M684 153 C684.8 154 688.7 157.3 689 159 C689.3 160.7 686.5 162.3 686 163" fill="none" stroke="#a9aaac" stroke-width="1.3" stroke-linecap="round"/>
<path d="M728 160 C728.8 159 731.7 154 733 154 C734.3 154 734.7 158.2 736 160 C737.3 161.8 739 164 741 165 C743 166 746.8 165.8 748 166" fill="none" stroke="#8a8b8d" stroke-width="1.3" stroke-linecap="round"/>
<path d="M656 167 C657 167.8 659.5 170.8 662 172 C664.5 173.2 668 174 671 174 C674 174 678.5 172.3 680 172" fill="none" stroke="#141414" stroke-width="1.2" stroke-linecap="round"/>
<path d="M765 150 C765.2 152.5 765.5 161.5 766 165 C766.5 168.5 767.7 170 768 171" fill="none" stroke="#141414" stroke-width="1.1" stroke-linecap="round"/>
<path d="M708 158.5 C705.5 158.5 702.9 165.4 701 170 C699.1 174.6 697.1 182.2 696.7 186 C696.3 189.8 697.3 191.5 698.5 193 C699.7 194.5 702.4 195.1 704 195 C705.6 194.9 706.5 192.5 708 192.5 C709.5 192.5 711.3 194.8 713 195 C714.7 195.2 716.9 195 718 193.5 C719.1 192 720.1 189.9 719.8 186 C719.5 182.1 718 174.6 716 170 C714 165.4 710.5 158.5 708 158.5 Z" fill="#bfc0c2" stroke="#888" stroke-width="1" stroke-linejoin="round" />
<path d="M704 170 C704.7 166.2 706.5 162.5 707 165 C707.5 167.5 707.7 181.2 707 185 C706.3 188.8 703.5 190.5 703 188 C702.5 185.5 703.3 173.8 704 170 Z" fill="#d6d7d9" stroke="none" opacity="1"/>
<rect x="677.5" y="212" width="5.6" height="10" rx="2.5" fill="#fff" stroke="#141414" stroke-width="1.1"/>
<rect x="683.4" y="212" width="5.6" height="10" rx="2.5" fill="#fff" stroke="#141414" stroke-width="1.1"/>
<rect x="689.2" y="209" width="5.6" height="13" rx="2.5" fill="#fff" stroke="#141414" stroke-width="1.1"/>
<rect x="695" y="209" width="5.6" height="13" rx="2.5" fill="#fff" stroke="#141414" stroke-width="1.1"/>
<rect x="700.9" y="209" width="5.6" height="13" rx="2.5" fill="#fff" stroke="#141414" stroke-width="1.1"/>
<rect x="706.8" y="209" width="5.6" height="13" rx="2.5" fill="#fff" stroke="#141414" stroke-width="1.1"/>
<rect x="712.6" y="209" width="5.6" height="13" rx="2.5" fill="#fff" stroke="#141414" stroke-width="1.1"/>
<rect x="718.5" y="209" width="5.6" height="13" rx="2.5" fill="#fff" stroke="#141414" stroke-width="1.1"/>
<rect x="724.3" y="209" width="5.6" height="13" rx="2.5" fill="#fff" stroke="#141414" stroke-width="1.1"/>
<rect x="730.1" y="212" width="5.6" height="10" rx="2.5" fill="#fff" stroke="#141414" stroke-width="1.1"/>
<rect x="736" y="212" width="5.6" height="10" rx="2.5" fill="#fff" stroke="#141414" stroke-width="1.1"/>
<rect x="680.5" y="222.3" width="5.6" height="11" rx="2.4" fill="#fff" stroke="#141414" stroke-width="0.9"/>
<rect x="686.4" y="222.3" width="5.6" height="11" rx="2.4" fill="#fff" stroke="#141414" stroke-width="0.9"/>
<rect x="692.2" y="222.3" width="5.6" height="11" rx="2.4" fill="#fff" stroke="#141414" stroke-width="0.9"/>
<rect x="698" y="222.3" width="5.6" height="11" rx="2.4" fill="#fff" stroke="#141414" stroke-width="0.9"/>
<rect x="703.9" y="222.3" width="5.6" height="11" rx="2.4" fill="#fff" stroke="#141414" stroke-width="0.9"/>
<rect x="709.8" y="222.3" width="5.6" height="11" rx="2.4" fill="#fff" stroke="#141414" stroke-width="0.9"/>
<rect x="715.6" y="222.3" width="5.6" height="11" rx="2.4" fill="#fff" stroke="#141414" stroke-width="0.9"/>
<rect x="721.5" y="222.3" width="5.6" height="11" rx="2.4" fill="#fff" stroke="#141414" stroke-width="0.9"/>
<rect x="727.3" y="222.3" width="5.6" height="11" rx="2.4" fill="#fff" stroke="#141414" stroke-width="0.9"/>
<rect x="733.1" y="222.3" width="5.6" height="11" rx="2.4" fill="#fff" stroke="#141414" stroke-width="0.9"/>
<path d="M657.7 197.1 C658.8 196.9 662.3 194.8 664 196 C665.7 197.2 666 201.3 668 204 C670 206.7 674.7 210.7 676 212" fill="none" stroke="#141414" stroke-width="1.2" stroke-linecap="round"/>
<path d="M759.6 197.1 C758.5 196.9 754.8 194.8 753 196 C751.2 197.2 750.8 201.3 749 204 C747.2 206.7 743.2 210.7 742 212" fill="none" stroke="#141414" stroke-width="1.2" stroke-linecap="round"/>
<path d="M668 200 C668.7 203.7 670 215.3 672 222 C674 228.7 678.7 237 680 240" fill="none" stroke="#666" stroke-width="0.8" stroke-linecap="round"/>
<path d="M750 200 C749.3 203.7 747.7 215.3 746 222 C744.3 228.7 741 237 740 240" fill="none" stroke="#666" stroke-width="0.8" stroke-linecap="round"/>
<g id="armL">
<path d="M501.3 611.1 C502.2 607.5 507 608.9 510 608.5 C513 608.1 518.1 606.2 519.3 609 C520.5 611.8 517.7 619.7 517 625 C516.3 630.3 516.5 634.6 515.1 640.7 C513.7 646.8 510.6 654.8 508.7 661.8 C506.8 668.8 506.3 672.4 503.5 683 C500.7 693.6 495 712.9 491.8 725.2 C488.6 737.5 485.5 747.4 484.4 756.9 C483.3 766.4 484.5 775.1 485 782.3 C485.5 789.5 487.1 794 487.2 800 C487.3 806 488.7 815.3 485.8 818.5 C482.9 821.7 474.7 819.4 470 819 C465.3 818.6 459.5 819.6 457.7 816.4 C455.9 813.2 457.9 805.7 459 800 C460.1 794.3 462.4 791.2 464.4 782.3 C466.3 773.4 468.2 759.4 470.7 746.4 C473.2 733.4 476 716.4 479.2 704.1 C482.4 691.8 485.8 680.5 489.7 672.4 C493.6 664.3 499.9 662.5 502.4 655.5 C504.9 648.5 504.7 637.6 504.5 630.2 C504.3 622.8 500.4 614.7 501.3 611.1 Z" fill="#fff" stroke="#141414" stroke-width="1.9" stroke-linejoin="round" />
<path d="M519.3 609 C522.1 602 525.8 609.1 530 609.5 C534.2 609.9 543.3 607.6 544.7 611.1 C546.1 614.6 541.5 623.5 538.3 630.2 C535.1 636.9 528.8 640.8 525.6 651.3 C522.4 661.8 521.4 679.4 519.3 693.5 C517.2 707.6 515.5 721 513 735.8 C510.5 750.6 506.2 771.6 504.5 782.3 C502.8 793 503.5 794.5 503 800 C502.5 805.5 502.8 812.4 501.3 815 C499.8 817.6 496.4 816 494 815.5 C491.6 815 488.2 814.8 487.2 812.2 C486.2 809.6 487.4 805 488 800 C488.6 795 489.1 793 490.8 782.3 C492.5 771.6 495.2 754.1 498.2 735.8 C501.2 717.5 506.2 686.5 508.7 672.4 C511.2 658.3 511.2 661.9 513 651.3 C514.8 640.7 516.5 616 519.3 609 Z" fill="#fff" stroke="#141414" stroke-width="1.9" stroke-linejoin="round" />
<path d="M521 640 L527 640 L517 700 L508 760 L503 760 L511 700 Z" fill="#e7e7e9" stroke="none" opacity="1"/>
<path d="M499 672 L505 672 L492 725 L484 760 L476 790 L471 790 L478 756 L487 722 Z" fill="#e7e7e9" stroke="none" opacity="1"/>
<path d="M505.6 598 C505.9 596.1 506.6 593.7 508 592.5 C509.4 591.3 512 591 514 591 C516 591 518.2 592.6 520 592.5 C521.8 592.4 523 590.7 525 590.5 C527 590.3 530.2 590.9 532 591.5 C533.8 592.1 534.3 593.8 536 594 C537.7 594.2 540 592.7 542 593 C544 593.3 546.8 594.3 548 596 C549.2 597.7 549.8 600.9 549.5 603 C549.2 605.1 547.9 607.2 546 608.5 C544.1 609.8 540.7 610.4 538 610.5 C535.3 610.6 532.8 609.2 530 609 C527.2 608.8 524 609.8 521 609.5 C518 609.2 514.4 608.4 512 607.5 C509.6 606.6 507.6 605.6 506.5 604 C505.4 602.4 505.4 599.9 505.6 598 Z" fill="#8099a9" stroke="#5d7584" stroke-width="1.1" stroke-linejoin="round" />
<ellipse cx="466" cy="825" rx="6" ry="5" fill="#fff" stroke="#141414" stroke-width="1.2"/>
<ellipse cx="476" cy="824" rx="5.5" ry="5" fill="#fff" stroke="#141414" stroke-width="1.2"/>
<ellipse cx="486" cy="823" rx="5" ry="5" fill="#fff" stroke="#141414" stroke-width="1.2"/>
<ellipse cx="494" cy="824" rx="4.5" ry="4.5" fill="#fff" stroke="#141414" stroke-width="1.2"/>
<ellipse cx="464" cy="834" rx="5" ry="4.5" fill="#fff" stroke="#141414" stroke-width="1.2"/>
<ellipse cx="473" cy="835" rx="5.5" ry="5" fill="#fff" stroke="#141414" stroke-width="1.2"/>
<ellipse cx="483" cy="835.5" rx="5" ry="5" fill="#fff" stroke="#141414" stroke-width="1.2"/>
<ellipse cx="492" cy="834" rx="5" ry="5" fill="#fff" stroke="#141414" stroke-width="1.2"/>
<path d="M459.6 826.8 C457.9 826 457.8 826.8 455.5 828.9 C453.2 831 449.4 836.3 446 839.4 C442.6 842.5 437.4 845.5 435 847.6 C432.7 849.8 431.8 850.6 432.2 852.4 C432.5 854.1 435.4 857.4 437.1 857.9 C438.8 858.4 439.7 857.6 442.1 855.5 C444.5 853.5 448 848.6 451.5 845.6 C455 842.5 460.6 839.3 463 837.3 C465.3 835.3 466.1 835.2 465.6 833.5 C465 831.7 461.3 827.5 459.6 826.8 Z" fill="#fff" stroke="#141414" stroke-width="1.6" stroke-linejoin="round" />
<path d="M457.4 833.6 C458.4 831.9 456.2 830.8 454.4 831.9 C452.5 832.9 449.3 837.4 446.5 840 C443.8 842.6 438.9 845.7 437.7 847.4 C436.4 849.2 437.2 851.4 439 850.5 C440.8 849.6 445.3 844.8 448.3 842 C451.4 839.2 456.4 835.3 457.4 833.6 Z" fill="#e9e9eb" stroke="none" opacity="1"/>
<path d="M463.4 838.9 C461.8 839 462.4 838.8 461.2 842.1 C459.9 845.5 458 853.6 455.8 858.9 C453.7 864.3 449.6 870.7 448.3 874.1 C447 877.6 446.8 878.3 447.9 879.6 C449 881 453.1 882.6 454.8 882.3 C456.5 882 456.9 881.4 458.2 877.9 C459.5 874.5 460.8 867 462.8 861.6 C464.7 856.2 468.7 848.9 470 845.5 C471.3 842.2 471.6 842.7 470.5 841.6 C469.4 840.5 465 838.8 463.4 838.9 Z" fill="#fff" stroke="#141414" stroke-width="1.6" stroke-linejoin="round" />
<path d="M464.4 844.9 C464.9 842.4 462.7 842.4 461.4 844.8 C460.1 847.2 458.3 854.5 456.5 859.2 C454.7 863.8 451.1 870.1 450.6 872.7 C450 875.3 451.8 877 453.1 874.8 C454.5 872.7 456.9 865 458.8 860.1 C460.7 855.1 464 847.5 464.4 844.9 Z" fill="#e9e9eb" stroke="none" opacity="1"/>
<path d="M470.9 842.5 C469.4 843.1 469.9 843 469.8 846.3 C469.7 849.5 470.6 857 470.3 862.1 C470 867.3 468 873.6 467.9 877.1 C467.7 880.5 467.8 881.7 469.4 882.7 C470.9 883.7 475.6 883.9 477.2 883 C478.8 882.1 479 880.9 479.1 877.5 C479.2 874 477.7 867.5 477.7 862.4 C477.7 857.2 479.2 849.9 479.3 846.6 C479.4 843.3 479.9 843.4 478.5 842.8 C477.1 842.1 472.3 841.9 470.9 842.5 Z" fill="#fff" stroke="#141414" stroke-width="1.6" stroke-linejoin="round" />
<path d="M473.8 847.8 C473.4 845.6 471.4 846.3 470.9 848.7 C470.4 851.1 471.2 857.8 471 862.1 C470.8 866.5 469.3 872.6 469.6 874.9 C470 877.2 472.3 878.2 473 876.1 C473.6 874 473.3 866.9 473.4 862.2 C473.6 857.5 474.2 850.1 473.8 847.8 Z" fill="#e9e9eb" stroke="none" opacity="1"/>
<path d="M480.3 843.4 C479 844.2 479.4 843.8 480 847.1 C480.5 850.3 482.8 857.6 483.5 862.8 C484.2 868 483.7 874.9 484.2 878.3 C484.7 881.7 485 882.6 486.6 883.2 C488.3 883.9 492.6 883.2 494 882 C495.3 880.9 495.3 880 494.7 876.6 C494.1 873.2 491.4 866.8 490.5 861.7 C489.5 856.5 489.4 848.9 488.9 845.6 C488.3 842.4 488.8 842.6 487.4 842.2 C486 841.8 481.5 842.5 480.3 843.4 Z" fill="#fff" stroke="#141414" stroke-width="1.6" stroke-linejoin="round" />
<path d="M484 847.8 C483.1 845.6 481.4 846.6 481.4 849.1 C481.5 851.6 483.6 858.2 484.2 862.7 C484.9 867.2 484.7 873.6 485.5 875.9 C486.2 878.2 488.6 878.7 488.8 876.4 C488.9 874.2 487.3 867.1 486.5 862.3 C485.7 857.6 484.8 850 484 847.8 Z" fill="#e9e9eb" stroke="none" opacity="1"/>
<path d="M488.9 842.4 C487.8 843.2 488.2 843 489 845.8 C489.8 848.7 492.6 855 493.7 859.6 C494.9 864.2 494.9 870.4 495.7 873.4 C496.5 876.4 496.9 877.4 498.5 877.9 C500.1 878.3 504.2 877.2 505.3 876 C506.5 874.8 506.3 873.7 505.4 870.7 C504.6 867.7 501.4 862.4 500.1 857.9 C498.7 853.4 497.9 846.5 497.1 843.6 C496.3 840.7 496.7 840.8 495.4 840.6 C494 840.4 490 841.5 488.9 842.4 Z" fill="#fff" stroke="#141414" stroke-width="1.6" stroke-linejoin="round" />
<path d="M492.8 846.1 C491.8 844.2 490.3 845.4 490.6 847.6 C490.8 849.8 493.4 855.5 494.4 859.4 C495.4 863.4 495.7 869.1 496.6 871 C497.5 873 499.8 873.2 499.8 871.2 C499.8 869.2 497.6 863.1 496.4 858.9 C495.3 854.7 493.7 848 492.8 846.1 Z" fill="#e9e9eb" stroke="none" opacity="1"/>
<path d="M431.8 854.8 C430 854.9 429.8 856.6 429.2 858.5 C428.5 860.5 428.7 864.1 427.8 866.6 C427 869 424.7 871.3 424 873.3 C423.3 875.3 422.6 877.2 423.6 878.5 C424.6 879.8 428.6 881.4 430.2 881.1 C431.8 880.8 432.6 878.9 433.4 876.9 C434.3 875 434.1 871.8 435.2 869.4 C436.2 867 438.8 864.5 439.6 862.6 C440.4 860.7 441.5 859.3 440.2 858 C438.9 856.7 433.7 854.7 431.8 854.8 Z" fill="#fff" stroke="#141414" stroke-width="1.6" stroke-linejoin="round" />
<path d="M433 861.8 C432.8 860.8 430.2 860.8 429.5 861.7 C428.7 862.5 429.1 865.1 428.6 866.9 C428 868.6 426.2 870.8 426.2 872 C426.2 873.1 427.8 874.7 428.6 874 C429.4 873.3 430.2 869.8 430.9 867.8 C431.7 865.8 433.2 862.8 433 861.8 Z" fill="#e9e9eb" stroke="none" opacity="1"/>
<path d="M424.3 876.1 C422.6 876.1 422.3 877.7 421.8 879.4 C421.2 881.2 421.7 884.4 420.9 886.6 C420.2 888.8 418.2 890.9 417.5 892.6 C416.9 894.2 416.3 895.6 417.1 896.6 C417.8 897.6 420.8 898.9 422.1 898.7 C423.4 898.5 424 897.2 424.7 895.6 C425.4 893.9 425.5 891 426.6 888.9 C427.6 886.9 430.2 885 431.1 883.4 C431.9 881.7 432.8 880.4 431.7 879.2 C430.6 878 425.9 876.1 424.3 876.1 Z" fill="#fff" stroke="#141414" stroke-width="1.6" stroke-linejoin="round" />
<path d="M425.1 882.5 C424.9 881.6 422.5 881.5 421.9 882.3 C421.3 883 422 885.3 421.5 886.8 C421 888.4 419.3 890.5 419.2 891.6 C419.1 892.6 420.4 893.9 421 893.2 C421.7 892.5 422.6 889.4 423.3 887.6 C424 885.8 425.4 883.4 425.1 882.5 Z" fill="#e9e9eb" stroke="none" opacity="1"/>
<path d="M447.3 883.9 C445.3 884.2 445.5 885.7 445 888.4 C444.5 891.1 445.2 896.3 444.5 900.1 C443.8 903.8 441.3 908.2 440.8 910.9 C440.2 913.5 439.9 915 441.1 916.1 C442.3 917.3 446.3 918.3 447.9 917.8 C449.5 917.3 449.9 915.8 450.6 913.2 C451.3 910.6 451.1 905.6 452.1 901.9 C453.2 898.2 456.2 893.8 457 891.2 C457.7 888.6 458.5 887.4 456.9 886.2 C455.3 884.9 449.3 883.5 447.3 883.9 Z" fill="#fff" stroke="#141414" stroke-width="1.6" stroke-linejoin="round" />
<path d="M449.6 891.4 C449.3 889.9 446.5 890.2 445.8 891.7 C445 893.2 445.7 897.3 445.2 900.3 C444.7 903.2 442.7 907.5 442.7 909.3 C442.7 911 444.6 912.3 445.4 910.9 C446.2 909.5 447 904.1 447.7 900.9 C448.4 897.6 450 892.9 449.6 891.4 Z" fill="#e9e9eb" stroke="none" opacity="1"/>
<path d="M441.2 914.4 C439.5 914.6 439.4 916.4 439 918 C438.6 919.5 439.3 922 438.9 923.7 C438.5 925.5 436.8 926.9 436.4 928.5 C436 930 435.4 932.1 436.4 933.2 C437.4 934.3 441 935.3 442.4 935 C443.9 934.7 444.5 932.6 445 931.1 C445.6 929.5 445 927.5 445.6 925.8 C446.2 924.1 448.1 922.4 448.7 920.9 C449.2 919.4 450.2 917.8 448.9 916.8 C447.6 915.7 442.8 914.2 441.2 914.4 Z" fill="#fff" stroke="#141414" stroke-width="1.6" stroke-linejoin="round" />
<path d="M442.7 920.7 C442.3 920 440 920.2 439.5 920.8 C439 921.3 439.8 922.9 439.6 923.9 C439.4 925 438.1 926.3 438.2 927.1 C438.4 927.9 440 929.2 440.6 928.8 C441.1 928.4 441.4 925.9 441.7 924.6 C442.1 923.2 443.1 921.3 442.7 920.7 Z" fill="#e9e9eb" stroke="none" opacity="1"/>
<path d="M436.7 932 C435.4 932.5 435.5 934.1 435.5 935.3 C435.5 936.5 436.6 938 436.7 939.2 C436.7 940.5 435.6 941.6 435.5 942.8 C435.4 944 435.3 945.6 436.1 946.2 C437 946.9 439.8 947.2 440.8 946.8 C441.8 946.3 442 944.7 442.2 943.5 C442.3 942.4 441.6 941 441.8 939.8 C442.1 938.6 443.6 937.4 443.8 936.2 C444.1 935 444.6 933.5 443.4 932.8 C442.2 932.1 438 931.6 436.7 932 Z" fill="#fff" stroke="#141414" stroke-width="1.6" stroke-linejoin="round" />
<path d="M438.9 936.9 C438.5 936.6 436.6 937.1 436.3 937.5 C436 937.9 437.1 938.6 437.2 939.3 C437.2 940 436.4 941 436.7 941.6 C436.9 942.1 438.2 942.8 438.6 942.5 C439 942.1 438.8 940.4 438.9 939.5 C438.9 938.5 439.3 937.3 438.9 936.9 Z" fill="#e9e9eb" stroke="none" opacity="1"/>
<path d="M468.9 885 C467.1 885.9 467.6 886.9 467.8 890 C468 893.1 469.9 899.1 470.1 903.6 C470.4 908.1 469.1 913.9 469.3 917 C469.4 920.1 469.4 921.4 471 922.3 C472.5 923.1 476.9 923 478.4 922.1 C479.9 921.2 479.9 919.9 479.9 916.8 C479.9 913.6 478.3 907.9 478.4 903.4 C478.4 898.9 480 892.8 480.1 889.7 C480.2 886.6 480.6 885.6 478.7 884.8 C476.9 884 470.7 884.2 468.9 885 Z" fill="#fff" stroke="#141414" stroke-width="1.6" stroke-linejoin="round" />
<path d="M473.1 891.7 C472.4 890 469.8 891 469.4 893 C469 895 470.7 899.9 470.9 903.6 C471.2 907.2 470.3 912.8 470.8 914.8 C471.3 916.9 473.5 917.7 474 915.8 C474.5 913.9 473.8 907.5 473.6 903.5 C473.5 899.5 473.8 893.5 473.1 891.7 Z" fill="#e9e9eb" stroke="none" opacity="1"/>
<path d="M470.3 920.5 C468.7 921.3 469.2 922.6 469.4 924.8 C469.5 927 471.1 930.7 471.2 933.6 C471.4 936.5 470.4 940 470.5 942.3 C470.6 944.5 470.7 946.2 472.1 947 C473.4 947.7 477.4 947.6 478.7 946.7 C480 945.9 480 944.2 480 941.9 C480 939.7 478.7 936.3 478.7 933.4 C478.6 930.5 479.9 926.6 480 924.4 C480 922.2 480.4 920.9 478.7 920.2 C477.1 919.6 471.8 919.7 470.3 920.5 Z" fill="#fff" stroke="#141414" stroke-width="1.6" stroke-linejoin="round" />
<path d="M473.9 926.2 C473.3 925.2 471.1 926.1 470.8 927.4 C470.4 928.6 471.8 931.4 472 933.6 C472.2 935.8 471.4 939.1 471.9 940.3 C472.3 941.6 474.3 942.3 474.7 941.2 C475.2 940 474.5 936 474.4 933.5 C474.3 931 474.5 927.2 473.9 926.2 Z" fill="#e9e9eb" stroke="none" opacity="1"/>
<path d="M471.6 945 C470.3 945.7 470.7 947.4 470.9 948.6 C471.1 949.9 472.6 951.2 472.8 952.4 C473 953.7 472.1 955.1 472.3 956.3 C472.4 957.5 472.5 959.3 473.6 959.9 C474.7 960.4 477.7 960.2 478.7 959.5 C479.7 958.8 479.6 957 479.5 955.8 C479.5 954.6 478.4 953.4 478.5 952.1 C478.5 950.8 479.8 949.3 479.9 948 C479.9 946.8 480.1 945 478.7 944.5 C477.4 944 472.9 944.3 471.6 945 Z" fill="#fff" stroke="#141414" stroke-width="1.6" stroke-linejoin="round" />
<path d="M474.8 949.7 C474.3 949.5 472.4 950.4 472.2 950.8 C471.9 951.3 473.2 951.7 473.4 952.4 C473.6 953.1 472.9 954.3 473.3 954.8 C473.6 955.2 475.2 955.8 475.5 955.3 C475.8 954.9 475.3 953.2 475.2 952.3 C475.1 951.3 475.3 950 474.8 949.7 Z" fill="#e9e9eb" stroke="none" opacity="1"/>
<path d="M484.9 884.9 C483.4 886.1 484.2 887.5 485 889.8 C485.8 892 488.6 895.5 489.7 898.5 C490.7 901.5 490.5 905.7 491.2 907.9 C491.9 910.2 492.3 911.7 493.9 912.1 C495.4 912.5 499.2 911.5 500.3 910.4 C501.4 909.2 500.9 907.7 500.4 905.4 C499.8 903.1 497.5 899.6 496.8 896.5 C496.2 893.4 496.8 889 496.4 886.6 C495.9 884.3 495.9 882.7 494 882.4 C492 882.1 486.4 883.7 484.9 884.9 Z" fill="#fff" stroke="#141414" stroke-width="1.6" stroke-linejoin="round" />
<path d="M490.3 890.1 C489.4 889.2 487.2 890.9 487.2 892.2 C487.2 893.6 489.6 896 490.4 898.3 C491.2 900.5 491.3 904.5 492.1 905.7 C492.9 907 495 907.2 495.1 905.9 C495.2 904.5 493.5 900.3 492.7 897.6 C491.9 895 491.2 891.1 490.3 890.1 Z" fill="#e9e9eb" stroke="none" opacity="1"/>
<path d="M493 910.2 C491.7 911.1 492.2 911.9 492.6 914.1 C493 916.4 494.8 920.4 495.3 923.5 C495.9 926.7 495.4 930.6 495.8 932.9 C496.2 935.2 496.4 936.6 497.8 937.1 C499.2 937.7 502.9 937.1 504 936.2 C505.2 935.3 505 933.8 504.7 931.5 C504.4 929.2 502.7 925.6 502.3 922.5 C501.8 919.3 502.3 914.9 502 912.7 C501.7 910.5 502 909.5 500.5 909.1 C499 908.7 494.3 909.4 493 910.2 Z" fill="#fff" stroke="#141414" stroke-width="1.6" stroke-linejoin="round" />
<path d="M496.8 914.9 C496.1 913.8 494.3 914.9 494.2 916.3 C494 917.7 495.6 921 496 923.4 C496.5 925.9 496.2 929.6 496.8 930.9 C497.4 932.3 499.4 932.7 499.6 931.4 C499.9 930.1 498.7 925.8 498.3 923.1 C497.8 920.3 497.5 916.1 496.8 914.9 Z" fill="#e9e9eb" stroke="none" opacity="1"/>
<path d="M497.1 935.2 C495.9 935.8 496.3 937.4 496.5 938.6 C496.7 939.7 498.1 940.8 498.3 941.9 C498.6 943.1 497.7 944.3 497.9 945.4 C498 946.5 498.1 948.2 499.1 948.7 C500.1 949.2 502.9 949 503.8 948.3 C504.7 947.7 504.6 946 504.5 944.9 C504.5 943.8 503.5 942.7 503.6 941.6 C503.6 940.4 504.8 939.1 504.9 937.9 C504.9 936.8 505.1 935.1 503.8 934.7 C502.5 934.2 498.3 934.5 497.1 935.2 Z" fill="#fff" stroke="#141414" stroke-width="1.6" stroke-linejoin="round" />
<path d="M500.2 939.6 C499.7 939.4 497.9 940.2 497.7 940.6 C497.5 941 498.7 941.3 498.9 941.9 C499 942.5 498.4 943.6 498.8 944 C499.1 944.4 500.5 944.9 500.8 944.5 C501.1 944.1 500.7 942.6 500.6 941.8 C500.4 941 500.6 939.8 500.2 939.6 Z" fill="#e9e9eb" stroke="none" opacity="1"/>
<path d="M502.8 871.4 C501.5 872.3 502.1 872.9 502.6 875.3 C503.2 877.7 505.4 882.3 506.1 885.9 C506.9 889.4 506.7 894.2 507.3 896.6 C507.8 899.1 508 900.1 509.3 900.5 C510.6 901 514 900.3 515.1 899.4 C516.1 898.5 515.9 897.5 515.5 895.1 C515.1 892.6 513.2 888.2 512.6 884.6 C512 881 512.3 876 511.9 873.5 C511.6 871.1 511.8 870.3 510.3 870 C508.8 869.6 504.1 870.5 502.8 871.4 Z" fill="#fff" stroke="#141414" stroke-width="1.6" stroke-linejoin="round" />
<path d="M506.8 875.9 C506.1 874.6 504.2 875.8 504.2 877.4 C504.2 879 506.1 882.9 506.8 885.7 C507.4 888.6 507.5 893.2 508.2 894.8 C508.9 896.3 510.7 896.7 510.8 895.1 C510.9 893.5 509.5 888.5 508.9 885.3 C508.2 882.1 507.6 877.3 506.8 875.9 Z" fill="#e9e9eb" stroke="none" opacity="1"/>
<path d="M508.5 898.8 C507.3 899.5 507.8 900.7 508.1 902.3 C508.3 903.8 509.7 906.3 510 908.4 C510.3 910.4 509.6 912.8 509.8 914.4 C510.1 916 510.3 917.6 511.5 918.1 C512.6 918.7 515.9 918.3 516.9 917.5 C517.9 916.7 517.7 915.1 517.6 913.5 C517.4 911.8 516.2 909.7 516 907.6 C515.8 905.6 516.6 902.9 516.4 901.3 C516.3 899.6 516.5 898.4 515.2 898 C513.9 897.6 509.7 898.1 508.5 898.8 Z" fill="#fff" stroke="#141414" stroke-width="1.6" stroke-linejoin="round" />
<path d="M511.8 903.1 C511.2 902.4 509.6 903.3 509.4 904.2 C509.2 905.1 510.3 906.9 510.6 908.3 C510.8 909.7 510.4 911.9 510.8 912.7 C511.3 913.5 512.9 914 513.2 913.2 C513.5 912.4 512.8 909.7 512.5 908.1 C512.3 906.4 512.3 903.7 511.8 903.1 Z" fill="#e9e9eb" stroke="none" opacity="1"/>
<path d="M510.9 917.2 C509.9 917.8 510.2 919.2 510.5 920.2 C510.7 921.2 511.9 922.1 512.2 923.1 C512.4 924.1 511.7 925.2 511.8 926.1 C511.9 927.1 512.1 928.4 512.9 928.8 C513.7 929.2 516 929 516.8 928.5 C517.5 928 517.4 926.6 517.4 925.6 C517.3 924.7 516.5 923.7 516.5 922.7 C516.6 921.7 517.7 920.6 517.7 919.6 C517.8 918.6 517.9 917.1 516.8 916.7 C515.6 916.3 512 916.7 510.9 917.2 Z" fill="#fff" stroke="#141414" stroke-width="1.6" stroke-linejoin="round" />
<path d="M513.6 921 C513.2 920.9 511.7 921.6 511.5 921.9 C511.3 922.3 512.4 922.5 512.6 923 C512.8 923.5 512.3 924.6 512.6 924.9 C512.8 925.3 514 925.7 514.3 925.3 C514.5 925 514.1 923.6 514 922.9 C513.9 922.2 514.1 921.2 513.6 921 Z" fill="#e9e9eb" stroke="none" opacity="1"/>
</g>
<use href="#armL" transform="translate(1423.6 0) scale(-1 1)"/>
<g id="pelvL">
<path d="M672.4 665.4 C669.7 659.5 658 653.2 651.1 650.2 C644.2 647.2 637.6 646.6 630.8 647.1 C624 647.6 616.2 650.2 610.5 653.2 C604.8 656.2 599.3 661 596.3 665.4 C593.3 669.8 591.9 674.9 592.3 679.6 C592.6 684.3 595.4 689.4 598.4 693.8 C601.4 698.2 607.1 701.5 610.5 705.9 C613.9 710.3 617.4 715.7 618.6 720.1 C619.8 724.5 617.1 728.9 617.6 732.3 C618.1 735.7 618.5 738 621.7 740.4 C624.9 742.8 633 743.1 636.9 746.5 C640.8 749.9 643.3 755.9 645 760.6 C646.7 765.3 646 769.7 647 774.8 C648 779.9 649.1 785.7 651.1 791.1 C653.1 796.5 655.8 803.4 659.2 807.3 C662.6 811.2 665.9 814.1 671.3 814.4 C676.7 814.7 685.5 811.8 691.6 809.3 C697.7 806.8 704.6 801.5 707.8 799.2 C711 796.9 710.5 800.9 711 795.5 C711.5 790.1 711.5 771.8 711 766.7 C710.5 761.6 711 768.1 707.8 764.7 C704.6 761.3 696.3 752.6 691.6 746.5 C686.9 740.4 683.1 735.6 679.4 728.2 C675.7 720.8 671.3 709 669.3 701.9 C667.3 694.8 666.8 691.8 667.3 685.7 C667.8 679.6 675.1 671.3 672.4 665.4 Z" fill="#fff" stroke="#141414" stroke-width="1.9" stroke-linejoin="round" />
<path d="M606 665 C609.5 659.5 617.7 656.3 625 655 C632.3 653.7 643.5 654.2 650 657 C656.5 659.8 662 664.8 664 672 C666 679.2 664.3 692 662 700 C659.7 708 655.3 716.3 650 720 C644.7 723.7 635.3 724.5 630 722 C624.7 719.5 622.3 710.7 618 705 C613.7 699.3 606 694.7 604 688 C602 681.3 602.5 670.5 606 665 Z" fill="#f1f1f2" stroke="none" opacity="1"/>
<path d="M659.2 722.1 C660.2 720.1 660.9 719.4 663 720 C665.1 720.6 667.2 721.6 672 726 C676.8 730.4 685.6 740 691.6 746.5 C697.6 753 704.8 761.2 707.8 764.7 C710.8 768.2 712.5 768 709.8 767.7 C707.1 767.4 698.7 766.2 691.6 762.7 C684.5 759.2 673 751.6 667.3 746.5 C661.6 741.4 658.6 736.4 657.2 732.3 C655.9 728.2 658.2 724.1 659.2 722.1 Z" fill="#fff" stroke="#141414" stroke-width="1.8" stroke-linejoin="round" />
<ellipse cx="682.5" cy="780.9" rx="15.5" ry="11.5" transform="rotate(25 682.5 780.9)" fill="#fff" stroke="#141414" stroke-width="1.5"/>
</g>
<use href="#pelvL" transform="translate(1423.6 0) scale(-1 1)"/>
<path d="M806.1 738.4 C803.9 738 797.5 734.9 792.9 736.3 C788.3 737.6 782 742.1 778.8 746.5 C775.6 750.9 773.7 757.3 773.7 762.7 C773.7 768.1 777.9 776.2 778.8 778.9" fill="none" stroke="#6f8796" stroke-width="5.2" stroke-linecap="butt"/>
<path d="M806.1 738.4 C803.9 738 797.5 734.9 792.9 736.3 C788.3 737.6 782 742.1 778.8 746.5 C775.6 750.9 773.7 757.3 773.7 762.7 C773.7 768.1 777.9 776.2 778.8 778.9" fill="none" stroke="#a9bcc8" stroke-width="3.2" stroke-linecap="butt"/>
<path d="M806 738 C807 736.7 811.3 733 812 730 C812.7 727 809.5 723.7 810 720 C810.5 716.3 813.3 711.3 815 708 C816.7 704.7 819.2 701.3 820 700" fill="none" stroke="#141414" stroke-width="1.2" stroke-linecap="round"/>
<path d="M806 741 C805 742.8 800 748.5 800 752 C800 755.5 802.7 759.8 806 762 C809.3 764.2 815.5 764.7 820 765 C824.5 765.3 830.8 764.2 833 764" fill="none" stroke="#141414" stroke-width="1.2" stroke-linecap="round"/>
<path d="M671.3 686 C674.1 684.5 683.2 689.9 690 691 C696.8 692.1 704.7 692.5 712 692.5 C719.3 692.5 727.3 692.1 734 691 C740.7 689.9 749.6 684.5 752.3 686 C755 687.5 750.7 695.3 750 700 C749.3 704.7 750.3 707.6 748 714 C745.7 720.4 740.7 731.3 736 738.4 C731.3 745.5 723.2 752.8 720 756.6 C716.8 760.4 716.9 759.6 716.5 761 C716.1 762.4 718.2 763.8 717.5 765 C716.8 766.2 713.8 768 712 768 C710.2 768 707.2 766.2 706.5 765 C705.8 763.8 708 762.4 707.5 761 C707 759.6 707.1 760.4 703.8 756.6 C700.5 752.8 692.3 745.5 687.6 738.4 C682.9 731.3 677.8 720.4 675.4 714 C673 707.6 673.7 704.7 673 700 C672.3 695.3 668.5 687.5 671.3 686 Z" fill="#f2f2f3" stroke="#141414" stroke-width="1.8" stroke-linejoin="round" />
<ellipse cx="696.5" cy="710" rx="3" ry="1.7" transform="rotate(-20 696.5 710)" fill="#fff" stroke="#141414" stroke-width="1.2"/>
<ellipse cx="697.5" cy="720" rx="3" ry="1.7" transform="rotate(-20 697.5 720)" fill="#fff" stroke="#141414" stroke-width="1.2"/>
<ellipse cx="698.5" cy="729" rx="3" ry="1.7" transform="rotate(-20 698.5 729)" fill="#fff" stroke="#141414" stroke-width="1.2"/>
<ellipse cx="699.5" cy="744.5" rx="3" ry="1.7" transform="rotate(-20 699.5 744.5)" fill="#fff" stroke="#141414" stroke-width="1.2"/>
<ellipse cx="727.5" cy="710" rx="3" ry="1.7" transform="rotate(20 727.5 710)" fill="#fff" stroke="#141414" stroke-width="1.2"/>
<ellipse cx="726.5" cy="720" rx="3" ry="1.7" transform="rotate(20 726.5 720)" fill="#fff" stroke="#141414" stroke-width="1.2"/>
<ellipse cx="725.5" cy="729" rx="3" ry="1.7" transform="rotate(20 725.5 729)" fill="#fff" stroke="#141414" stroke-width="1.2"/>
<ellipse cx="724.5" cy="744.5" rx="3" ry="1.7" transform="rotate(20 724.5 744.5)" fill="#fff" stroke="#141414" stroke-width="1.2"/>
<path d="M708.5 766.5 L715.5 766.5 L714.5 790 L712 796 L709.5 790 Z" fill="#7f98a6" stroke="#4d6470" stroke-width="1" stroke-linejoin="round" />
<g id="legL">
<path d="M588.2 760.6 C591.7 757.9 595.8 758.7 600 758.5 C604.2 758.3 611 761.6 613.6 759.6 C616.2 757.6 614.1 749.5 615.6 746.5 C617.1 743.5 619.2 741.4 622.7 741.4 C626.2 741.4 633.2 743.3 636.9 746.5 C640.6 749.7 643.3 755.9 645 760.6 C646.7 765.3 648.4 771.4 647 774.8 C645.6 778.2 639.9 776.2 636.9 780.9 C633.9 785.6 630.6 796.6 628.8 803.2 C627 809.8 625.5 809 626.3 820.5 C627.1 832 629.5 849.8 633.4 872.1 C637.3 894.4 644.7 930.7 649.8 954.2 C654.9 977.7 659.6 994.5 663.9 1012.9 C668.2 1031.3 672.1 1052.8 675.6 1064.5 C679.1 1076.2 680.9 1077.4 685 1083.3 C689.1 1089.2 696.9 1094.2 700.2 1099.7 C703.5 1105.2 704.6 1111 704.9 1116.1 C705.2 1121.1 703.5 1126.2 702 1130 C700.5 1133.8 699.7 1137 696 1139 C692.3 1141 688.5 1141.5 680 1142 C671.5 1142.5 652.7 1142.7 645 1142 C637.3 1141.3 636.9 1141.5 634 1138 C631.1 1134.5 628.4 1126 627.5 1120.8 C626.6 1115.6 627 1113 628.7 1106.8 C630.5 1100.5 637 1093.1 638 1083.3 C639 1073.5 636.5 1063.8 634.5 1048.1 C632.5 1032.4 629.6 1010.9 626.3 989.4 C623 967.9 618.9 942.5 614.6 919 C610.3 895.5 603.8 865.9 600.5 848.7 C597.2 831.5 597.6 824.7 594.6 815.8 C591.6 806.9 584.8 801.9 582.2 795.1 C579.6 788.3 578.1 780.5 579.1 774.8 C580.1 769 584.7 763.3 588.2 760.6 Z" fill="#fff" stroke="#141414" stroke-width="1.9" stroke-linejoin="round" />
<path d="M590 770 C591 765 596.7 765.3 600 765 C603.3 764.7 608 763.8 610 768 C612 772.2 613 784.7 612 790 C611 795.3 607 799.2 604 800 C601 800.8 596.3 800 594 795 C591.7 790 589 775 590 770 Z" fill="#f0f0f1" stroke="none" opacity="1"/>
<path d="M606.2 1168 C607.4 1166 609.4 1163.7 612 1163 C614.6 1162.3 619 1162.5 622 1164 C625 1165.5 629 1161.2 630 1171.7 C631 1182.2 628.2 1199.2 628.2 1226.7 C628.2 1254.2 629.7 1300 630 1336.7 C630.3 1373.4 630 1420.4 630 1446.7 C630 1473 630.7 1483.4 630 1494.3 C629.3 1505.2 627.8 1507.1 626 1512 C624.2 1516.9 621.7 1523.6 619 1523.7 C616.3 1523.8 611 1517.6 609.8 1512.7 C608.6 1507.8 610.2 1505.3 611.7 1494.3 C613.2 1483.3 618.1 1473 619 1446.7 C619.9 1420.4 618.1 1373.4 617.2 1336.7 C616.3 1300 615.5 1253.6 613.5 1226.7 C611.5 1199.8 606.3 1185.1 605.1 1175.3 C603.9 1165.5 605.1 1170 606.2 1168 Z" fill="#fff" stroke="#141414" stroke-width="1.8" stroke-linejoin="round" />
<path d="M625 1180 L629 1180 L629 1440 L625 1440 Z" fill="#dcdcde" stroke="none" opacity="1"/>
<path d="M616.1 1135 C620.3 1132.7 631 1131.2 640 1131 C649 1130.8 660 1132.7 670 1134 C680 1135.3 694.6 1135.7 699.7 1138.7 C704.8 1141.7 701.7 1146.5 700.5 1152 C699.3 1157.5 695.5 1163.5 692.3 1171.7 C689.1 1179.9 685 1179.6 681.3 1201 C677.6 1222.4 673 1265.2 670.3 1300 C667.5 1334.8 665.1 1382.5 664.8 1410 C664.5 1437.5 666.4 1452.2 668.5 1465 C670.6 1477.8 675.9 1480.9 677.7 1487 C679.5 1493.1 682.5 1499.7 679.5 1501.7 C676.5 1503.7 667 1499.6 660 1499 C653 1498.4 642.3 1498.8 637.3 1498 C632.3 1497.2 631.2 1498 630 1494.3 C628.8 1490.6 628.8 1490 630 1476 C631.2 1462 635.2 1439.3 637.3 1410 C639.4 1380.7 641.9 1333.6 642.8 1300 C643.7 1266.4 644.9 1229.7 642.8 1208.3 C640.7 1186.9 634.3 1180.2 630 1171.7 C625.7 1163.2 619.7 1161.5 617.2 1157 C614.7 1152.5 615.2 1148.7 615 1145 C614.8 1141.3 611.9 1137.3 616.1 1135 Z" fill="#fff" stroke="#141414" stroke-width="1.9" stroke-linejoin="round" />
<path d="M690 1152 L683 1160 L672 1172 L664 1300 L659 1410 L655 1445 L648 1445 L653 1300 L657 1200 L668 1165 Z" fill="#cfcfd1" stroke="none" opacity="1"/>
<path d="M648 1452 L658 1452 L664 1492 L642 1492 Z" fill="#d5d5d7" stroke="none" opacity="1"/>
<path d="M650 1118.5 C654 1116.9 662.7 1116.4 668 1117.3 C673.3 1118.2 679 1120.2 682 1124 C685 1127.8 686.4 1135 686.1 1140 C685.8 1145 683.7 1150.5 680 1154 C676.3 1157.5 669 1160.2 664 1160.7 C659 1161.2 653.5 1160.1 650 1157 C646.5 1153.9 643.7 1147 642.7 1142 C641.7 1137 642.8 1130.9 644 1127 C645.2 1123.1 646 1120.1 650 1118.5 Z" fill="#e9e9eb" stroke="#141414" stroke-width="1.9" stroke-linejoin="round" />
<path d="M650 1124 C652.7 1122.3 660 1121.3 664 1122 C668 1122.7 673 1126 674 1128 C675 1130 673 1132.7 670 1134 C667 1135.3 659.7 1136.3 656 1136 C652.3 1135.7 649 1134 648 1132 C647 1130 647.3 1125.7 650 1124 Z" fill="#f7f7f8" stroke="none" opacity="1"/>
</g>
<g id="footL">
<path d="M636.5 1497 C639 1494.3 648.8 1494 655 1494 C661.2 1494 671.2 1494 673.7 1497 C676.2 1500 671 1507.8 670 1512 C669 1516.2 670.3 1519.8 667.8 1522 C665.3 1524.2 658.9 1525 655 1525 C651.1 1525 646.8 1524.5 644.3 1522 C641.8 1519.5 641.3 1514.2 640 1510 C638.7 1505.8 634 1499.7 636.5 1497 Z" fill="#dedee0" stroke="#141414" stroke-width="1.6" stroke-linejoin="round" />
<path d="M622.8 1526 C626.1 1523.2 633.8 1523.1 640 1523 C646.2 1522.9 653.9 1523.5 660 1525.5 C666.1 1527.5 673.9 1531.4 676.6 1534.8 C679.4 1538.2 677.3 1543 676.5 1546 C675.7 1549 674.8 1552.2 672 1553 C669.2 1553.8 665.3 1551 660 1551 C654.7 1551 645.8 1552.3 640 1553 C634.2 1553.7 628.3 1557.2 625 1555 C621.7 1552.8 620.4 1544.8 620 1540 C619.6 1535.2 619.5 1528.8 622.8 1526 Z" fill="#fff" stroke="#141414" stroke-width="1.8" stroke-linejoin="round" />
<path d="M632 1525 C631.5 1529.8 629.5 1549.2 629 1554" fill="none" stroke="#141414" stroke-width="1.1" stroke-linecap="round"/>
<path d="M641 1524 C640.3 1528.8 637.7 1548.2 637 1553" fill="none" stroke="#141414" stroke-width="1.1" stroke-linecap="round"/>
<path d="M651 1525 C650.5 1529.5 648.5 1547.5 648 1552" fill="none" stroke="#141414" stroke-width="1.1" stroke-linecap="round"/>
<path d="M652 1553 C654 1552.7 660.2 1551.3 664 1551 C667.8 1550.7 673.2 1551 675 1551" fill="none" stroke="#6f8592" stroke-width="1.0" stroke-linecap="round"/>
<path d="M611.7 1552.2 C610.2 1552.1 611 1551.5 609.2 1555.1 C607.3 1558.7 603.8 1567.9 600.6 1573.8 C597.4 1579.7 591.9 1587 590 1590.7 C588 1594.4 588 1594.6 588.9 1596.1 C589.9 1597.6 593.8 1599.6 595.5 1599.5 C597.3 1599.4 597.5 1599.3 599.4 1595.6 C601.3 1591.8 604.1 1583.2 607.1 1577.2 C610.1 1571.2 615.6 1563 617.5 1559.4 C619.4 1555.8 619.4 1556.9 618.4 1555.7 C617.5 1554.4 613.3 1552.3 611.7 1552.2 Z" fill="#fff" stroke="#141414" stroke-width="1.6" stroke-linejoin="round" />
<path d="M612.1 1558.2 C613 1555.3 610.9 1555 609.1 1557.7 C607.3 1560.4 604 1568.8 601.2 1574.1 C598.5 1579.4 593.5 1586.6 592.4 1589.5 C591.3 1592.5 592.9 1594.3 594.7 1591.9 C596.5 1589.6 600.5 1580.9 603.4 1575.2 C606.3 1569.6 611.1 1561.1 612.1 1558.2 Z" fill="#d4d4d6" stroke="none" opacity="1"/>
<path d="M618.5 1551.7 C616.8 1551.9 617.7 1550.9 616.3 1555.4 C614.9 1559.9 612.6 1571.2 610.2 1578.8 C607.7 1586.3 603.1 1596.1 601.7 1600.7 C600.3 1605.3 600.4 1605.2 601.7 1606.5 C602.9 1607.9 607.3 1609.3 609.1 1608.9 C610.9 1608.5 610.9 1608.6 612.4 1604 C613.9 1599.4 615.7 1588.8 618 1581.2 C620.4 1573.7 624.9 1563.1 626.4 1558.6 C627.8 1554.1 627.9 1555.4 626.6 1554.2 C625.3 1553.1 620.3 1551.5 618.5 1551.7 Z" fill="#fff" stroke="#141414" stroke-width="1.6" stroke-linejoin="round" />
<path d="M620.1 1558.3 C620.6 1554.7 618.3 1554.9 616.7 1558.4 C615.2 1561.8 613.1 1572.2 610.9 1579 C608.8 1585.8 604.7 1595.4 604 1599.1 C603.3 1602.7 605.3 1604.3 606.9 1601.1 C608.5 1597.9 611.3 1587 613.5 1579.8 C615.7 1572.7 619.6 1561.9 620.1 1558.3 Z" fill="#d4d4d6" stroke="none" opacity="1"/>
<path d="M628.4 1551.7 C626.5 1552.2 627.4 1550.8 626.4 1556.2 C625.5 1561.6 624.4 1575.1 622.7 1584.2 C621 1593.3 617.2 1605.4 616.2 1610.9 C615.2 1616.5 615.4 1616.1 616.9 1617.4 C618.5 1618.8 623.6 1619.7 625.5 1619 C627.5 1618.3 627.4 1618.7 628.5 1613.2 C629.5 1607.6 630.2 1595 631.8 1585.8 C633.4 1576.7 637.1 1563.7 638.1 1558.3 C639.1 1552.9 639.4 1554.5 637.8 1553.4 C636.2 1552.3 630.3 1551.3 628.4 1551.7 Z" fill="#fff" stroke="#141414" stroke-width="1.6" stroke-linejoin="round" />
<path d="M631.1 1558.9 C631.2 1554.6 628.6 1555.1 627.4 1559.4 C626.1 1563.6 625.1 1576.1 623.6 1584.3 C622.1 1592.6 618.8 1604.4 618.5 1608.8 C618.2 1613.2 620.6 1614.7 622 1610.7 C623.3 1606.7 625 1593.5 626.6 1584.9 C628.1 1576.2 631 1563.1 631.1 1558.9 Z" fill="#d4d4d6" stroke="none" opacity="1"/>
<path d="M640.5 1552.7 C638.4 1553.3 639.2 1552.2 638.6 1557.7 C638 1563.3 638 1576.7 636.9 1585.9 C635.7 1595.1 632.4 1607.1 631.8 1612.8 C631.1 1618.6 631.2 1618.8 633.1 1620.2 C635 1621.7 641 1622.3 643.1 1621.4 C645.3 1620.4 645.4 1620.2 646.1 1614.4 C646.7 1608.7 646.1 1596.3 647 1587.1 C647.9 1577.9 651 1564.7 651.6 1559.2 C652.2 1553.6 652.7 1554.9 650.9 1553.8 C649 1552.7 642.5 1552 640.5 1552.7 Z" fill="#fff" stroke="#141414" stroke-width="1.6" stroke-linejoin="round" />
<path d="M643.9 1560.3 C643.7 1556.1 640.8 1556.9 639.8 1561.2 C638.8 1565.5 638.8 1577.9 637.9 1586 C637 1594.2 634.2 1605.9 634.2 1610.2 C634.3 1614.6 637.2 1616.1 638.4 1612.1 C639.5 1608.2 640.3 1595.1 641.2 1586.4 C642.1 1577.8 644.1 1564.5 643.9 1560.3 Z" fill="#d4d4d6" stroke="none" opacity="1"/>
<path d="M655.8 1551.2 C652.8 1552.7 653.8 1553.1 654 1559.3 C654.2 1565.6 657 1579.1 657.1 1588.7 C657.2 1598.3 654.6 1610.4 654.8 1616.9 C655 1623.5 655.2 1626.1 658.4 1627.8 C661.6 1629.6 670.7 1629.3 673.8 1627.4 C676.9 1625.4 676.9 1622.8 676.8 1616.3 C676.6 1609.7 673.2 1597.9 672.7 1588.3 C672.2 1578.7 674.1 1564.9 674 1558.7 C673.8 1552.4 674.8 1552 671.7 1550.8 C668.7 1549.5 658.7 1549.8 655.8 1551.2 Z" fill="#fff" stroke="#141414" stroke-width="1.6" stroke-linejoin="round" />
<path d="M662.6 1562 C661.4 1558 657.3 1559.8 656.6 1564.2 C656 1568.7 658.4 1580.7 658.7 1588.7 C658.9 1596.7 656.9 1608.2 657.9 1612.4 C658.9 1616.7 663.6 1618.4 664.6 1614.4 C665.6 1610.5 664.1 1597.3 663.7 1588.5 C663.4 1579.8 663.8 1566.1 662.6 1562 Z" fill="#d4d4d6" stroke="none" opacity="1"/>
<path d="M660 1565 L666 1570 L668 1610 L662 1612 Z" fill="#d2d2d4" stroke="none" opacity="1"/>
<path d="M656.8 1622.6 C653.7 1624.3 654.9 1627.5 655.6 1631.4 C656.2 1635.2 659.7 1640.8 660.4 1645.5 C661.1 1650.3 659.3 1655.8 659.8 1659.7 C660.4 1663.6 660.8 1667.6 663.7 1668.9 C666.5 1670.2 674.4 1669.3 676.9 1667.5 C679.4 1665.6 679 1661.6 678.7 1657.7 C678.4 1653.8 675.5 1648.7 675.2 1644 C674.9 1639.2 677.1 1632.9 676.9 1629.1 C676.7 1625.2 677.2 1621.8 673.9 1620.7 C670.5 1619.7 659.8 1620.8 656.8 1622.6 Z" fill="#fff" stroke="#141414" stroke-width="1.6" stroke-linejoin="round" />
<path d="M665 1633.6 C663.7 1632.2 659.3 1634.4 658.8 1636.4 C658.3 1638.4 661.3 1642.2 661.9 1645.4 C662.5 1648.6 661.2 1653.7 662.3 1655.7 C663.3 1657.6 667.4 1658.7 668.1 1656.9 C668.9 1655.1 667.2 1648.8 666.7 1644.9 C666.2 1641 666.3 1635 665 1633.6 Z" fill="#d4d4d6" stroke="none" opacity="1"/>
<path d="M662.5 1664.2 C659.7 1665 659.5 1668.4 659.8 1670.9 C660 1673.4 663.6 1676.5 663.9 1679.3 C664.3 1682.1 662 1685.4 661.8 1687.6 C661.6 1689.8 661.4 1691.3 662.5 1692.2 C663.7 1693.2 667.4 1693.7 668.8 1693.1 C670.1 1692.5 670.3 1691 670.7 1688.8 C671.1 1686.7 669.8 1682.8 670.9 1680.2 C671.9 1677.6 676.2 1675.6 677.1 1673.3 C678 1670.9 678.8 1667.6 676.3 1666.1 C673.9 1664.6 665.2 1663.4 662.5 1664.2 Z" fill="#fff" stroke="#141414" stroke-width="1.6" stroke-linejoin="round" />
<path d="M666.8 1674.5 C665.9 1673.8 661.7 1674.7 661.4 1675.5 C661 1676.4 664.3 1677.6 664.6 1679.4 C665 1681.1 663.1 1684.7 663.4 1686 C663.6 1687.3 665.3 1688.3 665.9 1687.3 C666.5 1686.2 666.7 1681.8 666.9 1679.7 C667 1677.6 667.7 1675.2 666.8 1674.5 Z" fill="#d4d4d6" stroke="none" opacity="1"/>
<path d="M662 1634 L668 1636 L671 1658 L665 1658 Z" fill="#d2d2d4" stroke="none" opacity="1"/>
<path d="M632.4 1617 C630.1 1617.6 630.3 1619.9 630 1622.4 C629.8 1624.9 631.3 1628.8 631 1631.7 C630.7 1634.7 628.6 1637.7 628.2 1640.1 C627.9 1642.6 627.5 1645 629 1646.3 C630.5 1647.6 635.4 1648.4 637.2 1647.7 C639 1647 639.5 1644.6 640 1642.2 C640.5 1639.8 639.5 1636.2 640.2 1633.3 C640.9 1630.4 643.6 1627.2 644.2 1624.9 C644.8 1622.5 645.8 1620.2 643.8 1618.9 C641.8 1617.6 634.7 1616.4 632.4 1617 Z" fill="#fff" stroke="#141414" stroke-width="1.6" stroke-linejoin="round" />
<path d="M635.7 1625.6 C635.1 1624.6 631.8 1625.2 631.2 1626.3 C630.6 1627.3 632.1 1629.9 631.9 1631.9 C631.8 1633.8 630.1 1636.8 630.4 1638.1 C630.7 1639.4 633 1640.8 633.7 1639.9 C634.5 1638.9 634.6 1634.8 634.9 1632.4 C635.2 1630 636.3 1626.6 635.7 1625.6 Z" fill="#d4d4d6" stroke="none" opacity="1"/>
<path d="M629.1 1643.5 C627.1 1643.9 627 1646.2 626.8 1647.9 C626.6 1649.5 627.8 1651.7 627.6 1653.4 C627.4 1655 625.7 1656.3 625.4 1657.9 C625.1 1659.5 624.5 1662 625.7 1663.1 C626.9 1664.2 630.9 1665.2 632.5 1664.7 C634.1 1664.2 634.7 1661.8 635.1 1660.2 C635.6 1658.6 634.7 1656.7 635.2 1655.1 C635.7 1653.5 637.9 1652.2 638.4 1650.6 C638.9 1649 639.9 1646.9 638.3 1645.7 C636.8 1644.5 631 1643.1 629.1 1643.5 Z" fill="#fff" stroke="#141414" stroke-width="1.6" stroke-linejoin="round" />
<path d="M631.3 1650.8 C630.8 1650.3 628.1 1650.6 627.6 1651.1 C627.1 1651.6 628.4 1652.7 628.4 1653.5 C628.3 1654.4 627 1655.6 627.3 1656.3 C627.6 1657 629.4 1658.3 630 1658 C630.6 1657.6 630.6 1655.3 630.8 1654.1 C631 1652.9 631.9 1651.3 631.3 1650.8 Z" fill="#d4d4d6" stroke="none" opacity="1"/>
<path d="M626 1662 C624.5 1662.4 624.4 1664 624.4 1665.5 C624.4 1667 626 1669.3 626 1671.1 C625.9 1672.9 624.6 1675 624.3 1676.4 C624.1 1677.8 624 1678.7 624.7 1679.3 C625.4 1679.9 627.7 1680.3 628.5 1680 C629.4 1679.7 629.6 1678.8 629.9 1677.4 C630.1 1676.1 629.6 1673.6 630.2 1671.9 C630.9 1670.2 633.1 1668.7 633.7 1667.2 C634.2 1665.8 634.7 1664.2 633.4 1663.4 C632.2 1662.5 627.5 1661.6 626 1662 Z" fill="#fff" stroke="#141414" stroke-width="1.6" stroke-linejoin="round" />
<path d="M628.1 1667.6 C627.7 1667.1 625.4 1667.5 625.2 1668.1 C624.9 1668.6 626.3 1670 626.4 1671.2 C626.4 1672.4 625.3 1674.6 625.4 1675.4 C625.5 1676.3 626.5 1677 626.9 1676.3 C627.3 1675.6 627.6 1672.9 627.8 1671.4 C628 1670 628.5 1668.2 628.1 1667.6 Z" fill="#d4d4d6" stroke="none" opacity="1"/>
<path d="M617.4 1614.4 C615.2 1614.5 614.7 1616.9 614.1 1618.7 C613.5 1620.6 614.2 1623.7 613.5 1625.8 C612.8 1627.9 610.5 1629.4 609.8 1631.2 C609.1 1633.1 608.1 1635.6 609.2 1637.1 C610.3 1638.5 614.6 1640.4 616.4 1640.1 C618.2 1639.9 619.3 1637.4 620.1 1635.6 C621 1633.8 620.5 1631.2 621.5 1629.2 C622.5 1627.2 625.2 1625.6 626.2 1623.9 C627.1 1622.1 628.5 1620.1 627 1618.5 C625.5 1617 619.5 1614.4 617.4 1614.4 Z" fill="#fff" stroke="#141414" stroke-width="1.6" stroke-linejoin="round" />
<path d="M618.5 1622.7 C618 1621.9 615 1621.8 614.3 1622.4 C613.6 1623 614.6 1624.9 614.3 1626.1 C613.9 1627.4 612.1 1628.8 612.2 1629.8 C612.3 1630.9 614.1 1632.6 614.9 1632.2 C615.7 1631.8 616.3 1628.8 616.9 1627.2 C617.5 1625.7 618.9 1623.5 618.5 1622.7 Z" fill="#d4d4d6" stroke="none" opacity="1"/>
<path d="M610.3 1635.6 C608.6 1635.7 608.3 1637.8 607.9 1639.2 C607.5 1640.6 608.3 1642.6 607.9 1644 C607.5 1645.4 605.9 1646.2 605.5 1647.7 C605.1 1649.1 604.3 1651.4 605.3 1652.6 C606.2 1653.7 609.9 1655.1 611.5 1654.8 C613 1654.5 613.8 1652.2 614.4 1650.8 C614.9 1649.4 614.2 1647.8 614.8 1646.5 C615.4 1645.1 617.3 1644.1 617.9 1642.8 C618.4 1641.4 619.5 1639.6 618.3 1638.4 C617 1637.2 612 1635.4 610.3 1635.6 Z" fill="#fff" stroke="#141414" stroke-width="1.6" stroke-linejoin="round" />
<path d="M611.6 1642.2 C611.1 1641.7 608.7 1641.8 608.2 1642.2 C607.7 1642.5 608.7 1643.6 608.6 1644.3 C608.5 1645 607.3 1645.7 607.5 1646.4 C607.7 1647 609.2 1648.4 609.8 1648.2 C610.4 1648 610.5 1646.1 610.8 1645.1 C611.1 1644.1 612 1642.7 611.6 1642.2 Z" fill="#d4d4d6" stroke="none" opacity="1"/>
<path d="M606.2 1651.7 C604.7 1651.8 604.3 1653.5 604.1 1654.7 C604 1655.8 605.4 1657.4 605.3 1658.6 C605.2 1659.7 603.8 1660.7 603.5 1661.7 C603.2 1662.6 602.8 1663.6 603.3 1664.3 C603.8 1664.9 605.8 1665.7 606.6 1665.5 C607.4 1665.4 607.8 1664.4 608.2 1663.4 C608.6 1662.5 608.2 1660.9 608.9 1659.9 C609.6 1659 611.7 1658.7 612.4 1657.8 C613 1656.8 613.8 1655.2 612.8 1654.2 C611.7 1653.2 607.6 1651.6 606.2 1651.7 Z" fill="#fff" stroke="#141414" stroke-width="1.6" stroke-linejoin="round" />
<path d="M607.2 1657.2 C606.7 1656.9 604.6 1656.9 604.4 1657.1 C604.1 1657.4 605.6 1658.1 605.6 1658.7 C605.7 1659.3 604.5 1660.5 604.6 1661 C604.6 1661.6 605.4 1662.3 605.8 1662 C606.2 1661.7 606.6 1659.9 606.8 1659.1 C607.1 1658.4 607.6 1657.6 607.2 1657.2 Z" fill="#d4d4d6" stroke="none" opacity="1"/>
<path d="M602 1604.9 C600 1605 599.7 1607 599 1608.8 C598.4 1610.7 598.8 1613.8 598 1615.9 C597.3 1618 595.1 1619.6 594.4 1621.5 C593.7 1623.3 592.8 1625.6 593.8 1627 C594.9 1628.4 599 1630.1 600.7 1629.9 C602.4 1629.6 603.4 1627.4 604.2 1625.6 C605 1623.8 604.7 1621.1 605.7 1619.1 C606.6 1617.1 609.2 1615.2 610 1613.4 C610.8 1611.7 612.1 1610 610.7 1608.6 C609.4 1607.2 603.9 1604.9 602 1604.9 Z" fill="#fff" stroke="#141414" stroke-width="1.6" stroke-linejoin="round" />
<path d="M603 1612.4 C602.7 1611.6 599.9 1611.5 599.2 1612.2 C598.5 1612.8 599.2 1614.9 598.8 1616.2 C598.4 1617.6 596.6 1619.1 596.7 1620.2 C596.8 1621.2 598.5 1622.8 599.2 1622.4 C600 1621.9 600.7 1618.9 601.3 1617.3 C601.9 1615.6 603.3 1613.3 603 1612.4 Z" fill="#d4d4d6" stroke="none" opacity="1"/>
<path d="M595 1625.7 C593.3 1625.8 592.9 1628 592.6 1629.1 C592.3 1630.2 593.3 1631.4 593 1632.3 C592.8 1633.1 591.6 1633.2 591.2 1634.3 C590.9 1635.4 590 1637.7 590.9 1638.8 C591.8 1640 595.2 1641.3 596.6 1641.1 C598 1640.8 599 1638.5 599.4 1637.4 C599.9 1636.4 599 1635.5 599.5 1634.7 C599.9 1633.9 601.4 1633.7 601.9 1632.7 C602.4 1631.7 603.6 1629.8 602.4 1628.6 C601.3 1627.5 596.6 1625.6 595 1625.7 Z" fill="#fff" stroke="#141414" stroke-width="1.6" stroke-linejoin="round" />
<path d="M596 1632 C595.5 1631.8 593.2 1631.8 592.9 1631.9 C592.5 1632 593.6 1632.3 593.7 1632.5 C593.7 1632.7 592.8 1632.7 593.1 1633.1 C593.4 1633.5 594.8 1634.8 595.2 1634.9 C595.7 1634.9 595.6 1633.8 595.8 1633.3 C595.9 1632.8 596.5 1632.3 596 1632 Z" fill="#d4d4d6" stroke="none" opacity="1"/>
<path d="M591.8 1637.8 C590.5 1637.8 589.9 1639.5 589.7 1640.4 C589.6 1641.2 590.9 1642.2 590.9 1642.8 C590.9 1643.5 589.9 1643.6 589.6 1644.3 C589.3 1645 588.7 1646.2 589.2 1646.9 C589.6 1647.6 591.5 1648.5 592.3 1648.4 C593.2 1648.3 593.7 1647.1 594.1 1646.5 C594.4 1645.8 593.9 1644.9 594.4 1644.5 C594.9 1644 596.5 1644.5 597 1643.8 C597.6 1643.2 598.6 1641.6 597.7 1640.6 C596.8 1639.5 593.2 1637.8 591.8 1637.8 Z" fill="#fff" stroke="#141414" stroke-width="1.6" stroke-linejoin="round" />
<path d="M592.3 1642.9 C591.9 1642.8 589.9 1642.6 589.8 1642.6 C589.6 1642.6 591.1 1642.8 591.2 1643 C591.4 1643.2 590.6 1643.4 590.7 1643.7 C590.8 1644.1 591.5 1644.9 591.8 1644.8 C592.1 1644.8 592.3 1643.8 592.4 1643.5 C592.5 1643.2 592.7 1643.1 592.3 1642.9 Z" fill="#d4d4d6" stroke="none" opacity="1"/>
<path d="M589.3 1596.3 C587.4 1596.4 587.2 1598.4 586.7 1600.1 C586.1 1601.9 586.6 1604.9 586 1606.9 C585.3 1608.9 583.4 1610.6 582.8 1612.4 C582.2 1614.2 581.4 1616.3 582.5 1617.6 C583.5 1618.9 587.4 1620.3 589 1620 C590.7 1619.7 591.5 1617.6 592.2 1615.8 C592.9 1614.1 592.5 1611.6 593.3 1609.6 C594.1 1607.6 596.4 1605.7 597.2 1604 C597.9 1602.3 599 1600.7 597.7 1599.4 C596.4 1598.1 591.1 1596.2 589.3 1596.3 Z" fill="#fff" stroke="#141414" stroke-width="1.6" stroke-linejoin="round" />
<path d="M590.6 1603.4 C590.2 1602.6 587.7 1602.6 587 1603.3 C586.4 1603.9 587.1 1605.9 586.7 1607.2 C586.4 1608.5 584.8 1610.1 584.9 1611 C585 1612 586.7 1613.5 587.4 1613 C588.1 1612.5 588.6 1609.7 589.1 1608 C589.6 1606.4 590.9 1604.2 590.6 1603.4 Z" fill="#d4d4d6" stroke="none" opacity="1"/>
<path d="M583 1616.4 C581.5 1616.7 581.4 1618.9 581.3 1619.8 C581.2 1620.8 582.4 1621.3 582.4 1621.9 C582.4 1622.5 581.4 1622.3 581.2 1623.2 C581.1 1624.2 580.5 1626.5 581.5 1627.4 C582.5 1628.4 585.8 1629.1 587 1628.7 C588.3 1628.3 588.8 1625.9 589.1 1625 C589.4 1624.1 588.4 1623.8 588.6 1623.3 C588.8 1622.8 590.2 1622.8 590.5 1621.9 C590.8 1621 591.6 1619 590.4 1618 C589.1 1617.1 584.6 1616.1 583 1616.4 Z" fill="#fff" stroke="#141414" stroke-width="1.6" stroke-linejoin="round" />
<path d="M584.9 1622.1 C584.4 1622.1 582.2 1622.4 581.9 1622.4 C581.6 1622.4 582.9 1622.1 583 1622 C583.2 1622 582.4 1621.7 582.7 1621.9 C583.1 1622.1 584.6 1623.1 584.9 1623.2 C585.3 1623.3 585 1622.7 585 1622.5 C585 1622.3 585.4 1622.1 584.9 1622.1 Z" fill="#d4d4d6" stroke="none" opacity="1"/>
<path d="M581.8 1626.5 C580.6 1626.8 580.4 1628.4 580.4 1629.3 C580.4 1630.2 581.7 1631.1 581.8 1631.9 C581.8 1632.6 580.9 1633.3 580.8 1634.1 C580.6 1634.8 580.4 1636 581 1636.6 C581.5 1637.1 583.5 1637.5 584.2 1637.3 C585 1637 585.2 1635.8 585.4 1635.1 C585.6 1634.3 585 1633.3 585.4 1632.6 C585.8 1631.9 587.4 1631.7 587.7 1630.9 C588.1 1630.1 588.6 1628.5 587.6 1627.8 C586.6 1627.1 583 1626.3 581.8 1626.5 Z" fill="#fff" stroke="#141414" stroke-width="1.6" stroke-linejoin="round" />
<path d="M583.3 1631.1 C582.9 1630.9 581.1 1631.2 580.9 1631.3 C580.7 1631.5 582 1631.6 582.1 1631.9 C582.3 1632.3 581.5 1632.9 581.7 1633.3 C581.8 1633.6 582.7 1634.2 583 1634 C583.2 1633.9 583.3 1632.7 583.3 1632.2 C583.4 1631.7 583.7 1631.2 583.3 1631.1 Z" fill="#d4d4d6" stroke="none" opacity="1"/>
</g>
<use href="#footL" transform="matrix(-1 0 -0.09 1 1564.8 0)"/>
<g id="legR">
<path d="M835.4 760.6 C831.9 757.9 827.8 758.7 823.6 758.5 C819.4 758.3 812.6 761.6 810 759.6 C807.4 757.6 809.5 749.5 808 746.5 C806.5 743.5 804.4 741.4 800.9 741.4 C797.3 741.4 790.4 743.3 786.7 746.5 C783 749.7 780.3 755.9 778.6 760.6 C776.9 765.3 775.2 771.4 776.6 774.8 C777.9 778.2 783.6 776.2 786.7 780.9 C789.8 785.6 793.3 796.6 795.3 803.2 C797.3 809.8 798.8 809 798.7 820.5 C798.6 832 797.1 849.8 794.4 872.1 C791.7 894.4 786.3 930.7 782.6 954.2 C778.8 977.7 775 994.5 771.7 1012.9 C768.4 1031.3 765.7 1052.8 762.8 1064.5 C760 1076.2 758.2 1077.4 754.5 1083.3 C750.7 1089.2 743.2 1094.2 740.2 1099.7 C737.1 1105.2 736.4 1111 736.4 1116.1 C736.3 1121.1 738.3 1126.2 740 1130 C741.7 1133.8 742.7 1137 746.5 1139 C750.3 1141 754.2 1141.5 762.7 1142 C771.2 1142.5 790.1 1142.7 797.7 1142 C805.3 1141.3 805.7 1141.5 808.5 1138 C811.2 1134.5 813.4 1126 814 1120.8 C814.6 1115.6 814.1 1113 812 1106.8 C810 1100.5 803 1093.1 801.5 1083.3 C800 1073.5 801.9 1063.8 803 1048.1 C804.1 1032.4 805.9 1010.9 808 989.4 C810.1 967.9 812.8 942.5 815.8 919 C818.8 895.5 823.7 865.9 826.1 848.7 C828.4 831.5 827.6 824.7 830.1 815.8 C832.7 806.9 839 801.9 841.4 795.1 C843.8 788.3 845.5 780.5 844.5 774.8 C843.5 769 838.9 763.3 835.4 760.6 Z" fill="#fff" stroke="#141414" stroke-width="1.9" stroke-linejoin="round" />
<path d="M826.1 1168 C824.2 1164.7 822.7 1163.5 820 1163 C817.3 1162.5 812.6 1160.5 810 1165 C807.4 1169.5 805.1 1176.7 804.1 1190 C803.1 1203.3 804.3 1220.5 804 1245 C803.7 1269.5 802.9 1303.1 802.3 1336.7 C801.7 1370.3 801.1 1420.4 800.5 1446.7 C799.9 1473 798.2 1483.4 798.6 1494.3 C799 1505.2 801.1 1507.9 803 1512 C804.9 1516.1 807.8 1519.5 810 1519 C812.2 1518.5 816.2 1518 816.5 1509 C816.8 1500 811.7 1487.6 811.5 1465 C811.3 1442.4 813 1410 815.1 1373.3 C817.2 1336.6 821.5 1276.8 824.3 1245 C827 1213.2 831.3 1195.5 831.6 1182.7 C831.9 1169.9 828 1171.3 826.1 1168 Z" fill="#fff" stroke="#141414" stroke-width="1.8" stroke-linejoin="round" />
<path d="M805 1200 L809 1200 L806 1440 L802 1440 Z" fill="#dcdcde" stroke="none" opacity="1"/>
<path d="M742.5 1140.5 C747.1 1137.5 760.4 1135.4 770 1135 C779.6 1134.6 791 1136.2 800 1138 C809 1139.8 820.1 1143 824.3 1146 C828.5 1149 825.9 1153 825 1156 C824.1 1159 822.6 1158.6 818.8 1164.3 C815 1170 806.3 1179.6 802.3 1190 C798.3 1200.4 796.5 1202.2 795 1226.7 C793.5 1251.2 793.1 1300 793.1 1336.7 C793.1 1373.4 795.3 1420.4 795 1446.7 C794.7 1473 795.5 1485.6 791.3 1494.3 C787.1 1503 776.9 1497.8 770 1499 C763.1 1500.2 753.4 1503.7 750.2 1501.7 C747 1499.7 749.6 1493.1 751 1487 C752.4 1480.9 755.9 1474.8 758.3 1465 C760.7 1455.2 763.8 1449.7 765.6 1428.3 C767.4 1406.9 769.9 1370.3 769.3 1336.7 C768.7 1303.1 764.5 1253.6 762 1226.7 C759.5 1199.8 757.9 1187.5 754.6 1175.3 C751.4 1163.1 744.5 1159.1 742.5 1153.3 C740.5 1147.5 737.9 1143.5 742.5 1140.5 Z" fill="#fff" stroke="#141414" stroke-width="1.9" stroke-linejoin="round" />
<path d="M752 1156 L760 1166 L770 1200 L778 1300 L776 1410 L772 1445 L780 1445 L786 1410 L788 1300 L782 1215 L772 1180 L764 1162 Z" fill="#cfcfd1" stroke="none" opacity="1"/>
<path d="M770 1452 L782 1452 L786 1492 L764 1492 Z" fill="#d5d5d7" stroke="none" opacity="1"/>
<path d="M792.6 1118.5 C788.6 1116.9 779.9 1116.4 774.6 1117.3 C769.3 1118.2 763.6 1120.2 760.6 1124 C757.6 1127.8 756.2 1135 756.5 1140 C756.8 1145 758.9 1150.5 762.6 1154 C766.3 1157.5 773.6 1160.2 778.6 1160.7 C783.6 1161.2 789 1160.1 792.6 1157 C796.1 1153.9 798.9 1147 799.9 1142 C800.9 1137 799.8 1130.9 798.6 1127 C797.4 1123.1 796.6 1120.1 792.6 1118.5 Z" fill="#e9e9eb" stroke="#141414" stroke-width="1.9" stroke-linejoin="round" />
<path d="M792.6 1124 C789.9 1122.3 782.6 1121.3 778.6 1122 C774.6 1122.7 769.6 1126 768.6 1128 C767.6 1130 769.6 1132.7 772.6 1134 C775.6 1135.3 782.9 1136.3 786.6 1136 C790.3 1135.7 793.6 1134 794.6 1132 C795.6 1130 795.3 1125.7 792.6 1124 Z" fill="#f7f7f8" stroke="none" opacity="1"/>
</g>
<!--SKEL_END-->
<!--BOXES-->
<g id="boxes" fill="#fff" fill-opacity="0.5" stroke="#111" stroke-width="2.6">
<rect x="683.2" y="246.2" width="53.4" height="53"/>
<rect x="478.5" y="557.5" width="90.2" height="90.2"/>
<rect x="412.5" y="788.5" width="91.2" height="90.2"/>
<rect x="744.4" y="701" width="90.2" height="90.2"/>
<rect x="899.6" y="776" width="91" height="90.6"/>
<rect x="724" y="1509" width="91.4" height="90.6"/>
</g>
<!--ARROWS-->
<g id="arrows" fill="#222" stroke="#000" stroke-width="1.5" stroke-linejoin="miter">
<path d="M453.9 252.5 L503.7 228.4 L500.4 245.8 L682.6 274.9 L497 266.6 L498.6 283.2 Z"/>
<path d="M235.1 693 L271.6 655.2 L276.6 672.1 L477.9 608.4 L281.6 690.9 L285.9 708 Z"/>
<path d="M355.8 1085.4 L347.1 1031.2 L361.6 1039.9 L440 880.3 L381.9 1044.8 L398.9 1051.5 Z"/>
<path d="M1090.4 347.9 L1040 370.8 L1055.2 379.6 L836.1 699.8 L1071.7 389.2 L1085.5 401.1 Z"/>
<path d="M1172.5 715.1 L1117 714.7 L1128.2 729.6 L991.1 814.2 L1137.2 746 L1145 763.9 Z"/>
<path d="M1014.8 1328.5 L960.2 1339.2 L973.2 1351.1 L815.2 1509.1 L986.3 1368.9 L998.2 1379.6 Z"/>
</g>
<!--JOINTS-->
<!--J1-->
<g id="pivot" stroke="#5a3c33" stroke-width="2" stroke-linejoin="round">
<!-- arch inner surface -->
<path d="M278.4 248 C300 254 345 290 365.2 329.4 C355 322 300 290 281 268 Z" fill="url(#pvArch)"/>
<path d="M296 276 C306 270 330 285 350 312 C335 304 310 290 296 276 Z" fill="#ece6d8" stroke="none" opacity="0.8"/>
<!-- rotation arrows behind lower cylinder -->
<g stroke="#0a0a0a" stroke-width="1.9">
<path d="M204 280.8 C196 282.5 180 290 173.8 296.5 C171 300 170.3 303 170.3 306.5 L172.6 315.3 C174 312 176 310.5 177.6 309.1 C181 306 196 298 204 296.7 Z" fill="#6d6e70"/>
<path d="M170.3 306.5 L170.7 325.4 C171.5 330 173 332.5 176.4 335.5 C179 338 182 340 185.2 341.8 L190.8 344.9 L190.2 351.2 L209.7 341.8 L190.8 321.6 L191.4 331.1 C188 329.5 184 327.5 181.4 325.4 C178.5 323 176.5 321 175.1 319.1 L172.6 315.3 Z" fill="#9c9da0"/>
<path d="M279.5 278.6 C288 280 306 287 314.7 294 C319 297.5 322 301 322.3 304 L320.4 314.1 C319 311.5 317 309.5 314.7 307.8 C309 303.5 290 296 279.5 294 Z" fill="#6d6e70"/>
<path d="M322.3 304 L322.9 322.9 C322.5 327.5 320.5 331 317.2 334.2 C314.5 336.8 311.5 338.8 308.4 340.5 L302.1 343.6 L302.8 351.2 L283.9 340.5 L302.1 321.6 L301.5 330.4 C305 329 308.5 327.3 310.9 325.4 C313.8 323.2 315.8 321.2 317.2 319.1 L320.4 314.1 Z" fill="#9c9da0"/>
</g>
<!-- lower cylinder -->
<path d="M204.2 236 L204.2 326.4 A37.1 14 0 0 0 278.4 326.4 L278.4 236 Z" fill="url(#cylA)"/>
<!-- block front face -->
<path d="M148.9 160 L148.9 214 C149 226 175 237 204 239.6 L240 241 C262 241 274 243 282 246.5 C310 258 350 296 365.2 329.4 L448.2 328.9 L444.5 180 L300 184 C270 186.5 200 187 170 176 C156 171 149 165 148.9 160 Z" fill="url(#pvFront)"/>
<!-- block top face -->
<path d="M240 131.5 L366.5 131.4 L444.5 180 L300 184 L240 185.5 Z" fill="#dfd6c3" stroke="none"/>
<!-- ring top -->
<ellipse cx="240" cy="158.5" rx="91" ry="27" fill="url(#pvTop)" stroke="none"/>
<path d="M300 184 L444.5 180 L366.5 131.4 L240 131.5" fill="none"/>
<path d="M240 131.5 A91 27 0 0 0 149 158.5 C149 172 190 185.5 240 185.5 C262 185.5 285 184.6 300 184" fill="none"/>
<path d="M152 166 C162 178 205 186 245 187" fill="none" stroke="#f6f3ec" stroke-width="3" opacity="0.9"/>
<!-- hole -->
<ellipse cx="239.6" cy="158" rx="47" ry="16" fill="#d3c8b2"/>
<!-- pin -->
<g clip-path="url(#pvClip)">
<path d="M204.4 132.7 L204.4 180 L274.6 180 L274.6 132.7 Z" fill="url(#cylA)"/>
<path d="M204.4 149 A35.1 9.5 0 0 0 274.6 149 L274.6 180 L204.4 180 Z" fill="url(#blueBand)"/>
</g>
<ellipse cx="239.5" cy="132.7" rx="35.1" ry="12.5" fill="#ebe6da"/>
</g>
<!--/J1-->
<!--J2-->
<g id="ball" stroke="#5a3c33" stroke-width="2" stroke-linejoin="round">
<!-- bottom rotation arrow back bands -->
<g stroke="#0a0a0a" stroke-width="1.9">
<path d="M1143.2 372.9 C1133 375 1115 383 1106.3 391.8 C1104 395 1102.2 397 1102.2 400 L1105.5 411.5 C1107 409 1109 407 1111.2 405 C1117 400 1134 392 1143.2 389.4 Z" fill="#6d6e70"/>
<path d="M1217.9 371.3 C1228 372.5 1248 380 1257.3 386.9 C1261 390 1263.9 394 1263.9 398.4 L1260.6 409.9 C1259 406.5 1257 404 1254.1 401.7 C1248 397.5 1230 391.5 1218.8 389.4 Z" fill="#6d6e70"/>
</g>
<!-- tilted upper bone -->
<path d="M1086.1 40 C1095 28 1125 8 1146.9 5.8 C1153 5 1160 5.5 1163.8 6.9 L1200 84 L1122 112 Z" fill="url(#ballUp)"/>
<!-- ball -->
<circle cx="1176.5" cy="161" r="61" fill="url(#ballG)" stroke="#7fa0b0" stroke-width="1"/>
<path d="M1142 190 C1150 160 1190 140 1222 136 C1232 150 1236 170 1228 190 C1215 215 1180 222 1150 215 Z" fill="#b9cdd7" stroke="none" opacity="0.55"/>
<path d="M1212 136 C1228 150 1236 175 1222 200 C1230 180 1232 155 1222 136 Z" fill="#e3edf1" stroke="none" opacity="0.9"/>
<!-- socket inner rim -->
<path d="M1095.4 176.8 C1130 150 1190 122 1250.6 120.7 L1256 129.1 C1256 138 1247 147 1239.1 151.4 C1238 143 1236 140 1233 138.4 C1228 134.5 1222 133.5 1216 133.7 C1208 134 1200 135 1193 136.8 C1182 139.5 1172 143 1162.2 147.6 C1154 151.5 1146 156 1139.2 161.4 C1131 167 1123 173 1117.7 178.3 C1116.5 183 1116.1 188 1116.1 192.2 L1098.4 189.9 Z" fill="url(#ballRim)"/>
<!-- socket outer -->
<path d="M1116.1 103 C1130 90 1170 76 1196 76.9 C1215 78 1237 98 1250.6 120.7 C1190 122 1130 150 1095.4 176.8 C1092 165 1092 150 1094 140 C1097 125 1106 112 1116.1 103 Z" fill="url(#ballCap)"/>
<!-- shaft -->
<path d="M1140.8 211.2 C1146 203 1160 196 1178.5 195.6 C1196 195.5 1209 201 1213.8 207.9 L1217.9 421.4 C1208 428 1195 430.6 1181.8 430.4 C1168 430.2 1153 427 1145.7 421.4 Z" fill="url(#cylB)"/>
<!-- arrows front -->
<g stroke="#0a0a0a" stroke-width="1.9" stroke-linejoin="miter">
<path d="M1102.2 400 L1103 423 C1104 428 1106 431 1109.6 433.7 C1113 436.5 1116 438.5 1119.4 440.3 L1124.3 442.7 L1123.5 449.3 L1143.2 438.6 L1124.3 418.9 L1124.3 427.1 C1121 425.5 1118.5 423.5 1116.1 421.4 C1113 419 1110.5 417 1108.7 414.8 L1105.5 411.5 Z" fill="#9c9da0"/>
<path d="M1263.9 398.4 L1264.7 418.1 C1264.5 423 1263 427.5 1260.6 431.2 C1258 434.5 1255 437 1250.8 439.4 L1242.6 442.7 L1242.6 449.3 L1222.9 438.6 L1242.6 418.9 L1241.7 427.1 C1245 425.5 1248 423.5 1250.8 421.4 C1254 419 1256.5 417 1258.2 414.8 L1260.6 409.9 Z" fill="#9c9da0"/>
<!-- U2 -->
<path d="M1093.1 285.9 L1121.9 297.4 L1113.7 302.3 C1119 309 1124 314 1129.3 317.9 C1136 323 1142 327 1149 330.2 C1157 333.5 1164 335.5 1172 336 C1180 336.5 1188 335.5 1194.9 333.5 C1203 331 1210 328 1216.3 324.5 C1223 320.5 1229 315.5 1234.4 309.7 C1238 305.5 1241.5 300.5 1244.2 294.9 L1235.2 292.5 L1260.6 274.9 L1262.3 305.6 L1254.1 301.5 C1250.5 308 1246 314 1240.9 319.6 C1235 326 1228 331.5 1219.6 336 C1212 340.5 1204 343.8 1194.9 345.8 C1187 347.8 1180 348.6 1172 348.3 C1163 348 1154 346 1145.7 342.6 C1137 339 1129 334 1121.1 327.8 C1115 322.5 1109.5 316.5 1104.6 309.7 L1097.7 316.3 Z" fill="#9c9da0"/>
<!-- U1 dark left -->
<path d="M1125.2 211.2 L1139.9 235 L1134.2 235 C1135 240 1136 245 1137.5 249 C1139.5 254 1142 258.5 1145.7 262.1 C1149 266 1153 269 1157.2 271.1 C1162 273.3 1167 274.8 1172 275.2 C1177 275.5 1181 275.2 1185.1 274.4 C1180 279 1172 283.5 1162.1 284.3 C1157 284 1153 282.5 1149 280.2 C1142 277 1137 272.5 1132.5 267 C1129 262.5 1126 256.5 1124.3 250.6 C1122.5 245 1121.5 239.5 1121 234.2 L1113.7 235 Z" fill="#67686a"/>
<!-- U1 light right -->
<path d="M1228.6 189 L1245 228.4 L1234.4 228.4 C1234 231 1233.5 233.5 1232.7 235.8 C1231 241 1228 246 1224.5 250.6 C1221 256 1216.5 261 1211.4 265.4 C1206 270 1201 274 1194.9 276.9 C1189 280 1184 281.8 1178.5 282.6 C1173 283.8 1167 284.5 1162.1 284.3 C1172 283.5 1180 279 1185.1 274.4 L1188.4 268.7 C1193 265.5 1197.5 261.5 1201.5 257.2 C1205 253 1207.8 248.5 1209.7 244 C1211.8 239 1213 233.5 1213.8 227.9 L1202.3 227.9 Z" fill="#9c9da0"/>
</g>
</g>
<!--/J2-->
<!--J3-->
<g id="hinge" stroke="#5a3c33" stroke-width="2" stroke-linejoin="round">
<!-- horizontal cylinder body -->
<path d="M30 599.6 L181.7 597.2 A23.2 50 0 0 1 181.7 697.1 L30.9 697.1 C18 688 10 665 10 645 C10 622 18 606 30 599.6 Z" fill="url(#hgBody)"/>
<!-- right end face -->
<ellipse cx="182.2" cy="647.2" rx="23.2" ry="50" fill="url(#hgEnd)"/>
<!-- vertical cylinder -->
<path d="M65.4 523.3 L65.4 608 C66 622 82 630.5 107.2 630.8 C132 630.5 148.8 622 149.3 608 L149.3 523.3 Z" fill="url(#cylA)"/>
<ellipse cx="107.3" cy="523.3" rx="42" ry="11.4" fill="url(#hgTopE)"/>
<!-- arrow -->
<g stroke="#0a0a0a" stroke-width="1.9" stroke-linejoin="miter">
<path d="M129.4 661.3 L115.4 624.5 L126.5 625 C128 618 130 613 132.6 609 C136 602 140 596 145.3 590.8 C150.5 585.5 157 581 163.5 578.1 C169 575.5 175 573.5 181.7 572.7 L196.2 572.7 L183.5 580.9 C179.5 582 176 583.5 172.6 585.4 C167 588.5 162 593 158.1 598.1 C154 603 151 607.5 149 612.6 C147.5 616.5 146.3 620.5 145.4 624.8 L156.6 625 Z" fill="#98999c"/>
<path d="M196.2 572.7 C202 574 208 576.5 212.6 579.9 C218 584.5 222 590 225.3 596.3 C228.5 602 231 607 232.6 612.6 L234.4 620.8 L240.7 620.8 L228 643.5 L214.4 619.9 L222.6 619.9 C221.5 614 220 608.5 218 603.6 C215.5 598 212 593 207.1 589 C203 585.5 198 583 192.6 581.8 L183.5 580.9 Z" fill="#67686a"/>
</g>
<!-- LOWER PART -->
<!-- lower cylinder -->
<!-- right end crescent -->
<path d="M216.2 720.3 C218.5 728 218.8 745 214.4 760 C211 770 207 776 203.5 779.9 C199 784.5 195 787.5 190.8 789 C188 790.3 185 790.8 181.7 790.8 C177 790.5 173 789.5 169 787.2 C164.5 784 161 780.5 158.1 776.3 C156 772.5 154.5 768 153.5 762.7 L169.9 750.5 C170.5 752.5 171.5 754.5 172.6 756.3 C174.5 760.5 176.5 763.8 179 766.3 C181.5 768.5 184 770 187.1 770 C190 769.5 192.5 766 194.4 761.8 C196.5 757 197.5 752 198 747.2 C198.8 742 199 737 199 733.6 Z" fill="url(#hgCres)"/>
<!-- front outer surface -->
<path d="M5.8 761.8 L153.5 762.7 C154.5 768 156 772.5 158.1 776.3 C161 780.5 164.5 784 169 787.2 C173 789.5 177 790.5 181.7 790.8 L33.6 790.8 C25 788 15 782 10.9 776.3 C8 772 6.5 767 5.8 761.8 Z" fill="url(#hgFront)"/>
<path d="M68.1 790.8 C73 781.5 90 776 109 775.9 C130 776 146 782 150.4 790.8 L150.4 874.4 C144 884 127 889 109 889 C92 889 75 884 68.1 874.4 Z" fill="url(#cylC)"/>
<!-- back rim top -->
<path d="M73.6 720.9 L216.2 720.3 L199 733.6 L53.6 732.7 Z" fill="#e6e0d1"/>
<!-- blue trough -->
<path d="M53.6 732.7 L199 733.6 C199 737 198.8 742 198 747.2 C197.5 752 196.5 757 194.4 761.8 C192.5 766 190 769.5 187.1 770 C184 770 181.5 768.5 179 766.3 C176.5 763.8 174.5 760.5 172.6 756.3 C171.5 754.5 170.5 752.5 169.9 750.5 L50.9 749.4 C53 747.5 54.3 746 54.5 745.4 Z" fill="url(#hgBlue)" stroke="#7c9cab" stroke-width="1"/>
<!-- front rim top -->
<path d="M24.5 749.4 L169.9 750.5 L153.5 762.7 L5.8 761.8 Z" fill="#e6e0d1"/>
</g>
<!--/J3-->
<!--J4-->
<g id="ellipsoid" stroke="#5a3c33" stroke-width="2" stroke-linejoin="round">
<!-- lower cylinder -->
<path d="M1255.1 850 L1255.1 954.3 C1262 961 1280 965.7 1299.3 965.7 C1318 965.7 1336 961 1342.8 954.3 L1342.8 850 Z" fill="url(#elCyl)"/>
<!-- dish outer -->
<path d="M1227.4 714.9 C1218 718 1210 725 1206.3 731.6 C1201 740 1198.4 748 1198.4 757.9 C1198.4 770 1200 781 1202.8 791.2 C1206 802 1211 813 1218.6 822.8 C1224 831 1230 838.5 1237.9 845.6 C1243 851 1249 856 1255.4 860.5 C1264 865 1274 868 1285.2 869.3 C1295 870.8 1306 871.3 1316.8 871 C1326 870.5 1335 869 1343.1 866.6 C1351 863.5 1358 859 1364.2 852.6 C1369 847 1372.5 840.5 1374.7 833.3 C1376.5 828.5 1377.3 824 1377.3 819.3 C1377.3 815 1376.7 811.5 1375.6 808.8 L1373.8 787.7 L1237.9 719.3 Z" fill="url(#elDish)"/>
<path d="M1203 745 C1201 765 1208 795 1225 820 C1240 840 1258 856 1280 862 C1262 852 1243 835 1228 812 C1213 790 1205 765 1208 742 Z" fill="#f4f1ea" stroke="none" opacity="0.85"/>
<!-- dish rim inner (darker band) -->
<path d="M1237.9 719.3 C1229 722 1223 727 1219 733 C1215.5 740 1216 749 1219 759 C1223 771 1230 785 1239 797 C1247 808 1256 818 1267.7 828 C1278 836.5 1290 844 1302.8 849 C1315 853 1327 855 1337.9 854 C1348 853 1358 848 1365 840 C1371 833 1375.5 823 1376 812 L1374.7 805.2 C1373 815 1370 825 1364.2 833.3 C1358 841 1349 845 1337.9 845.6 C1326 845.5 1314 843 1302.8 838.6 C1290 832.5 1278 824 1267.7 814 C1258 805 1249 795 1241.4 784.2 C1235 775 1229 766 1225.6 757.9 C1222.5 750 1220.5 745 1220.3 740.4 C1220.5 736 1221 733 1222.1 731.6 C1226 725 1231 721 1237.9 719.3 Z" fill="#c9bea6" stroke="none"/>
<!-- blue surface -->
<path d="M1237.9 719.3 C1231 721 1226 725 1222.1 731.6 C1220.5 734 1220 737 1220.3 740.4 C1220.5 745 1222.5 750 1225.6 757.9 C1229 766 1235 775 1241.4 784.2 C1249 795 1258 805 1267.7 814 C1278 824 1290 832.5 1302.8 838.6 C1314 843 1326 845.5 1337.9 845.6 C1349 845 1358 841 1364.2 833.3 C1370 825 1373 815 1374.7 805.2 C1375 799 1374.5 793 1373.8 787.7 C1372 775 1366 765 1358 757 L1260 715 Z" fill="url(#elBlue)" stroke="#7c9cab" stroke-width="1"/>
<path d="M1238 740 C1234 748 1240 764 1252 782 C1264 799 1280 815 1300 826 C1318 835 1338 838 1352 832 C1362 826 1367 812 1367 798 C1366 785 1360 772 1350 764 L1262 728 C1250 728 1241 733 1238 740 Z" fill="#dce7ee" stroke="none" opacity="0.9"/>
<!-- egg -->
<path d="M1251 612.1 C1243 612.5 1237 613.5 1232.6 614.7 C1222 620 1213 635 1210.7 651.6 C1209.5 661 1211 670 1215.1 677.9 C1220 690 1228 702 1237.9 712.9 C1244 722 1251 731 1258.9 739.3 C1267 746 1276 752 1285.2 756.8 C1293 761 1302 764.5 1311.6 767.3 C1320 769.5 1329 770.8 1337.9 770.8 C1347 770.8 1356 769 1364.2 765.6 C1370 761 1375 755 1378.2 748 C1382 740 1384.3 731 1384.3 721.7 C1384.5 710 1383 698 1380 686.6 C1377 675 1372 664 1365.9 653.3 C1361 645 1355 638 1348.4 632.3 L1338.7 625.2 Z" fill="url(#elEgg)"/>
<!-- upper cylinder -->
<path d="M1251 548.9 L1251 653.3 C1251.5 660 1253 666 1255.4 670.8 C1259 679 1264 685 1271.2 690.1 C1278 695.5 1286 699 1294 700.7 C1300 701.5 1307 701.5 1313.3 700.7 C1319 699 1324.5 696 1329.1 691.9 C1333 688 1336 683 1337.5 676 L1338.7 650 L1338.7 548.9 Z" fill="url(#elCyl2)"/>
<ellipse cx="1294.9" cy="548.9" rx="43.9" ry="15.3" fill="url(#elTop)"/>
<!-- arrows -->
<g stroke="#0a0a0a" stroke-width="1.9" stroke-linejoin="miter" fill="#98999c">
<path d="M1216 593.7 L1252.8 579.6 L1251 591 C1261 592 1270 594 1278.2 597.2 C1287 601 1295 605.5 1302.8 611.2 C1310.5 617.5 1317.5 624.5 1323.8 632.3 C1329.5 639 1334 646 1337.9 653.3 C1341.5 661 1344.5 669 1346.6 677.9 C1348.8 686.5 1350 695.5 1350.1 704.2 C1350.3 713 1349 722 1346.6 730.5 C1344.5 739.5 1342 745 1341.4 750.9 C1338.5 758 1335 765 1330.8 771.9 L1338.7 780.7 L1301.9 799.1 L1303.7 758.8 L1315.1 766.7 C1319 761 1323.5 753 1327.3 745.6 C1330 738 1332.5 730.5 1334.4 722.8 C1335.8 718 1336.3 713.5 1336.1 709.4 C1336.5 701.5 1335.8 694 1334.4 686.6 C1332.5 678.5 1329.5 671 1325.6 663.8 C1321.5 656.5 1317 649.5 1311.6 642.8 C1306 636 1300.5 630.5 1294 625.2 C1287.5 620.5 1280.5 616.5 1273 613 C1265.5 610 1257.5 608 1249.3 606.8 L1247.5 618.2 Z"/>
<path d="M1200.2 716.5 L1210.7 678.7 L1217.7 686.6 C1224 680 1230.5 674.5 1237.9 669.1 C1246 664 1255 660 1264.2 656.8 C1274 653.5 1284 651.5 1294 650.7 C1303 650.2 1312 650.5 1320.3 651.6 C1329.5 653 1338.5 655.5 1346.6 658.6 C1356 662.5 1365 667.8 1372.9 674.4 C1380.8 681 1388 688.8 1394 697.2 C1398.8 704 1402.8 711 1406.3 718.2 L1411.5 730.5 L1423.8 725.2 L1418.6 764.7 L1387 739.3 L1398.4 736.6 L1395.7 727 C1392.8 720 1389.3 713.8 1385.2 707.7 C1380.5 700.5 1375.5 694 1369.4 688.4 C1363 682.8 1356 678 1348.4 674.4 C1340.5 670.5 1332.5 668 1323.8 666.5 C1315.5 665.3 1307.5 665 1299.3 665.6 C1290.5 666.3 1281.5 668 1273 670.8 C1265 673.5 1257.5 677 1250.2 681.4 C1243 686 1236.2 691 1230 697.2 L1238.8 705.1 Z"/>
</g>
</g>
<!--/J4-->
<!--J5-->
<g id="saddle" stroke="#5a3c33" stroke-width="2" stroke-linejoin="round">
<!-- lower cylinder -->
<path d="M304.6 1350 L304.6 1460.4 C310 1466 326 1469.1 343 1469.1 C360 1469.1 374 1466 379.5 1460.4 L379.5 1370 Z" fill="url(#sdCyl)"/>
<!-- back-right block top -->
<path d="M340 1180 L381.5 1183.6 L454.8 1214 L453.1 1254.2 L330 1250 Z" fill="#dcd4c0"/>
<!-- back lobe -->
<path d="M168.3 1231.5 L264.4 1195.9 L301.1 1208.8 L189.3 1243.7 Z" fill="#e4ddcc"/>
<path d="M168.3 1231.5 L189.3 1243.7 L215 1250 L230 1340 L206.8 1331.1 C198 1324 191 1316 185.8 1306.6 C179 1296 174 1284 171.8 1271.7 C169.5 1258 168.5 1245 168.3 1231.5 Z" fill="url(#sdLobeB)"/>
<!-- lower piece side surface -->
<path d="M353.5 1290.9 L378 1299.7 C378.5 1312 379.5 1324 381.5 1334.6 C384.5 1347 389.5 1359 395.4 1369.5 C401 1380 408 1388.5 416.4 1394 L290.6 1359 L304.6 1345.1 L332.5 1331.1 L351.8 1320.6 Z" fill="url(#sdSide)"/>
<ellipse cx="339.5" cy="1327.6" rx="9" ry="4.5" fill="#a98c7a" stroke="#6b4a3e"/>
<!-- lower piece top face -->
<path d="M353.5 1292.7 C357.5 1289 362 1285.5 367.5 1282.2 C375 1276.5 383 1272 391.9 1268.2 C403 1263.5 415 1260 426.9 1257.7 C435.5 1256 444 1255 453.1 1254.2 L479.3 1263 L378 1299.7 Z" fill="#e2dbc9"/>
<!-- lower piece front D -->
<path d="M378 1299.7 L479.3 1263 C481.5 1272 482.8 1282 482.8 1292.7 C482.8 1305 481.5 1317 479.3 1327.6 C476.5 1342 473 1355 468.8 1366 C464 1377 458.5 1385 451.3 1390.5 C446 1395.5 440 1398.5 433.9 1399.2 C428 1399 422 1397.5 416.4 1394 C408 1388.5 401 1380 395.4 1369.5 C389.5 1359 384.5 1347 381.5 1334.6 C379.5 1324 378.5 1312 378 1299.7 Z" fill="url(#sdD2)"/>
<!-- front lobe top -->
<path d="M203.3 1235 L301.1 1210.5 L340 1222 L304.6 1264.7 Z" fill="url(#sdTopF)"/>
<!-- front lobe D -->
<path d="M203.3 1235 L304.6 1264.7 C304 1277 303 1289 301.1 1299.7 C299.5 1312 297 1324 294.1 1334.6 C291 1345 287.5 1354.5 283.6 1362.5 L276.6 1369.5 C272 1373.5 267.5 1376 262.7 1376.5 C258 1376.5 253 1375.5 248.7 1373 C240.5 1368 233.5 1361 227.7 1352.1 C220 1340.5 214 1327.5 210.2 1313.6 C206.5 1300 204 1286 203.3 1271.7 Z" fill="url(#sdD1)"/>
<!-- blue saddle -->
<path d="M304.6 1264.7 C309 1255 316.5 1247 325.5 1240.2 C335 1233.5 345.5 1228.5 357 1224.5 C368 1220.5 380 1217.5 391.9 1215.8 C403.5 1214 415 1212.8 426.9 1212.3 L454.8 1214 L453.1 1254.2 C444 1255 435.5 1256 426.9 1257.7 C415 1260 403 1263.5 391.9 1268.2 C383 1272 375 1276.5 367.5 1282.2 C362 1285.5 357.5 1289 353.5 1292.7 L351.8 1320.6 L332.5 1331.1 L304.6 1345.1 L287.1 1359 L269.6 1373 C275 1371 280 1367 283.6 1362.5 C287.5 1354.5 291 1345 294.1 1334.6 C297 1324 299.5 1312 301.1 1299.7 C303 1289 304 1277 304.6 1264.7 Z" fill="url(#sdBlue)" stroke="#6f8f9f" stroke-width="1"/>
<path d="M308 1268 C314 1256 326 1245 342 1236 C365 1225 400 1218 450 1217 L450 1224 C405 1226 372 1232 350 1243 C334 1251 320 1262 312 1276 Z" fill="#e4edf2" stroke="none" opacity="0.75"/>
<!-- upper cylinder -->
<path d="M299.3 1121.4 L299.3 1210 C303 1219 318 1226.3 336 1226.3 C355 1226.3 370 1219 373.8 1210 L373.8 1121.4 Z" fill="url(#sdCylU)"/>
<ellipse cx="336.5" cy="1121.4" rx="37.2" ry="12.2" fill="url(#sdTopE)"/>
<!-- arrows -->
<g stroke="#111" stroke-width="1.3" fill="url(#sdArr)" stroke-linejoin="miter">
<path d="M187.5 1243.7 C178 1251 168 1255.5 157.8 1257.7 C146 1259.5 134 1258.5 122.9 1254.2 C112 1249.5 102 1242.5 94.9 1233.3 L86.2 1224.5 L78.2 1229.8 L75.7 1196.6 L103.7 1212.3 L99.1 1220 C102 1224 105 1227 108.9 1229.8 C115 1238 122 1244 129.9 1247.2 C139 1250.5 148 1251.7 157.8 1250.7 C168 1249.5 178 1247 187.5 1243.7 Z"/>
<path d="M243.4 1310.1 C232 1305.5 221 1303.2 210.2 1303.1 C199 1303 188.5 1304.5 178.8 1308.4 C170.5 1312 163.5 1317.5 157.8 1324.1 C152.5 1329.5 148.5 1334.5 145.6 1339.8 L143.2 1345.1 L135.1 1341.6 L138.6 1374.8 L164.8 1357.3 L156.1 1355.6 C157.5 1350.5 159 1346 161.3 1341.6 C165.5 1334 171.5 1327.5 178.8 1322.4 C187 1316.5 196.5 1312 206.8 1310.1 C218 1308.5 231 1308.8 243.4 1310.1 Z"/>
<path d="M430.4 1201.8 C438 1196.5 446 1193 454.8 1191.3 C464 1189 473 1188 482.8 1188.5 C492.5 1189.5 502 1192 510.7 1196.6 C518.5 1201 525 1207 530 1214 L535.2 1221 L542.2 1217.5 L542.2 1250.7 L512.5 1233.3 L521.2 1231.5 C518.5 1224.5 515 1218 510.7 1212.3 C504 1205.5 495.5 1200.8 486.3 1198.3 C477 1195.5 467.5 1194.3 458.3 1194.8 C448.5 1195.5 439 1198 430.4 1201.8 Z"/>
<path d="M428.6 1328.3 C436.5 1333.5 445.5 1337.5 454.8 1339.8 C465 1342 476 1342.8 486.3 1341.6 C496.5 1340 506 1336.5 514.2 1331.1 C521.5 1326.5 527.5 1320.5 531.7 1313.6 L536.9 1304.9 L543.9 1308.4 L542.2 1281.5 L513.5 1296.9 L523 1299.7 C521 1306 518 1312 514.2 1317.1 C507.5 1324.5 499 1329.5 489.8 1332.8 C479.5 1336 469 1337.2 458.3 1336.3 C448 1335.3 438 1332.5 428.6 1328.3 Z"/>
</g>
</g>
<!--/J5-->
<!--J6-->
<g id="plane" stroke="#1c3440" stroke-width="1.2" stroke-linejoin="round">
<!-- NW arrow behind cylinder -->
<path d="M1000.4 1177.2 L1058.5 1196.9 L1042.4 1198.7 L1058.5 1216.9 L1058.5 1230.1 L1013 1196.9 L999.8 1200.7 Z" fill="#a6a7a9" stroke="#0a0a0a" stroke-width="1.7" stroke-linejoin="miter"/>
<!-- big slab -->
<path d="M934.6 1239.8 L1173 1233 L1300.6 1324 L1073.2 1341.6 Z" fill="#8fb1c4"/>
<path d="M934.6 1239.8 L1073.2 1341.6 L1073.8 1359.2 L934.6 1247.7 Z" fill="#4b7c94"/>
<path d="M1073.2 1341.6 L1300.6 1324 L1300.6 1341.6 L1073.8 1359.2 Z" fill="#7fa7bc"/>
<!-- small slab -->
<path d="M1005.1 1246.8 L1160 1241 L1215.5 1288.8 L1093.7 1303.4 Z" fill="#a0c3d8"/>
<path d="M1005.1 1246.8 L1093.7 1303.4 L1094.3 1317.2 L1005.1 1254.4 Z" fill="#4f8199"/>
<path d="M1093.7 1303.4 L1215.5 1288.8 L1215.5 1304.9 L1094.3 1317.2 Z" fill="#8db6cd"/>
<!-- W arrow -->
<path d="M910.3 1264.4 L941.1 1250.6 L954.3 1257.4 L1054.1 1260.3 L974.8 1271.2 L979.2 1278.5 Z" fill="#a6a7a9" stroke="#0a0a0a" stroke-width="1.7" stroke-linejoin="miter"/>
<!-- E arrow -->
<path d="M1165.6 1255 L1246.3 1239.8 L1234.6 1231.5 L1307.4 1240.3 L1278.6 1258 L1265.4 1252.7 Z" fill="#a6a7a9" stroke="#0a0a0a" stroke-width="1.7" stroke-linejoin="miter"/>
<!-- SE arrow -->
<path d="M1140.7 1278.5 L1240.5 1346 L1256.6 1346 L1255.2 1369.5 L1196.5 1350.4 L1211.7 1348.4 Z" fill="#98999c" stroke="#0a0a0a" stroke-width="1.7" stroke-linejoin="miter"/>
<!-- cylinder -->
<path d="M1059.4 1150.8 L1057.9 1263.8 C1064 1274 1086 1280.8 1111.3 1280.8 C1137 1280.8 1158 1275 1165.6 1266.8 L1169.4 1150.8 Z" fill="url(#plCyl)" stroke="#6b4a3e" stroke-width="1.6"/>
<ellipse cx="1114.4" cy="1150.8" rx="55" ry="15.8" fill="url(#plTop)" stroke="#6b4a3e" stroke-width="1.6"/>
</g>
<!--/J6-->

<!--TEXT-->
<g id="labels">
<text x="294.1" y="367.3" textLength="164" lengthAdjust="spacingAndGlyphs">Цилиндрический</text>
<text x="294.2" y="393.2" textLength="343" lengthAdjust="spacingAndGlyphs">(между I и II шейными позвонками)</text>
<text x="1006.5" y="90" textLength="127.6" lengthAdjust="spacingAndGlyphs">Шаровидный</text>
<text x="1006" y="116.1" textLength="150.7" lengthAdjust="spacingAndGlyphs">(тазобедреный)</text>
<text x="113.8" y="912.7" textLength="130.7" lengthAdjust="spacingAndGlyphs">Блоковидный</text>
<text x="114" y="938.9" textLength="155.8" lengthAdjust="spacingAndGlyphs">(плечелоктевой)</text>
<text x="1309.5" y="996.4" textLength="141.5" lengthAdjust="spacingAndGlyphs">Элипсовидный</text>
<text x="1309.7" y="1022.7" textLength="156.4" lengthAdjust="spacingAndGlyphs">(лучезапястный)</text>
<text x="309.3" y="1496.4" textLength="132" lengthAdjust="spacingAndGlyphs">Седловидный</text>
<text x="309.5" y="1522.8" textLength="330.4" lengthAdjust="spacingAndGlyphs">(запястно-пястный сустав I пальца)</text>
<text x="1190.5" y="1392.7" textLength="79.6" lengthAdjust="spacingAndGlyphs">Плоский</text>
<text x="1190.1" y="1418.6" textLength="289.2" lengthAdjust="spacingAndGlyphs">(между костями предплюсны)</text>
<text x="1219.7" y="1649.4" textLength="348.4" lengthAdjust="spacingAndGlyphs">Источник openstax.org лицензия CCA</text>
</g>
</svg>
</body></html>
